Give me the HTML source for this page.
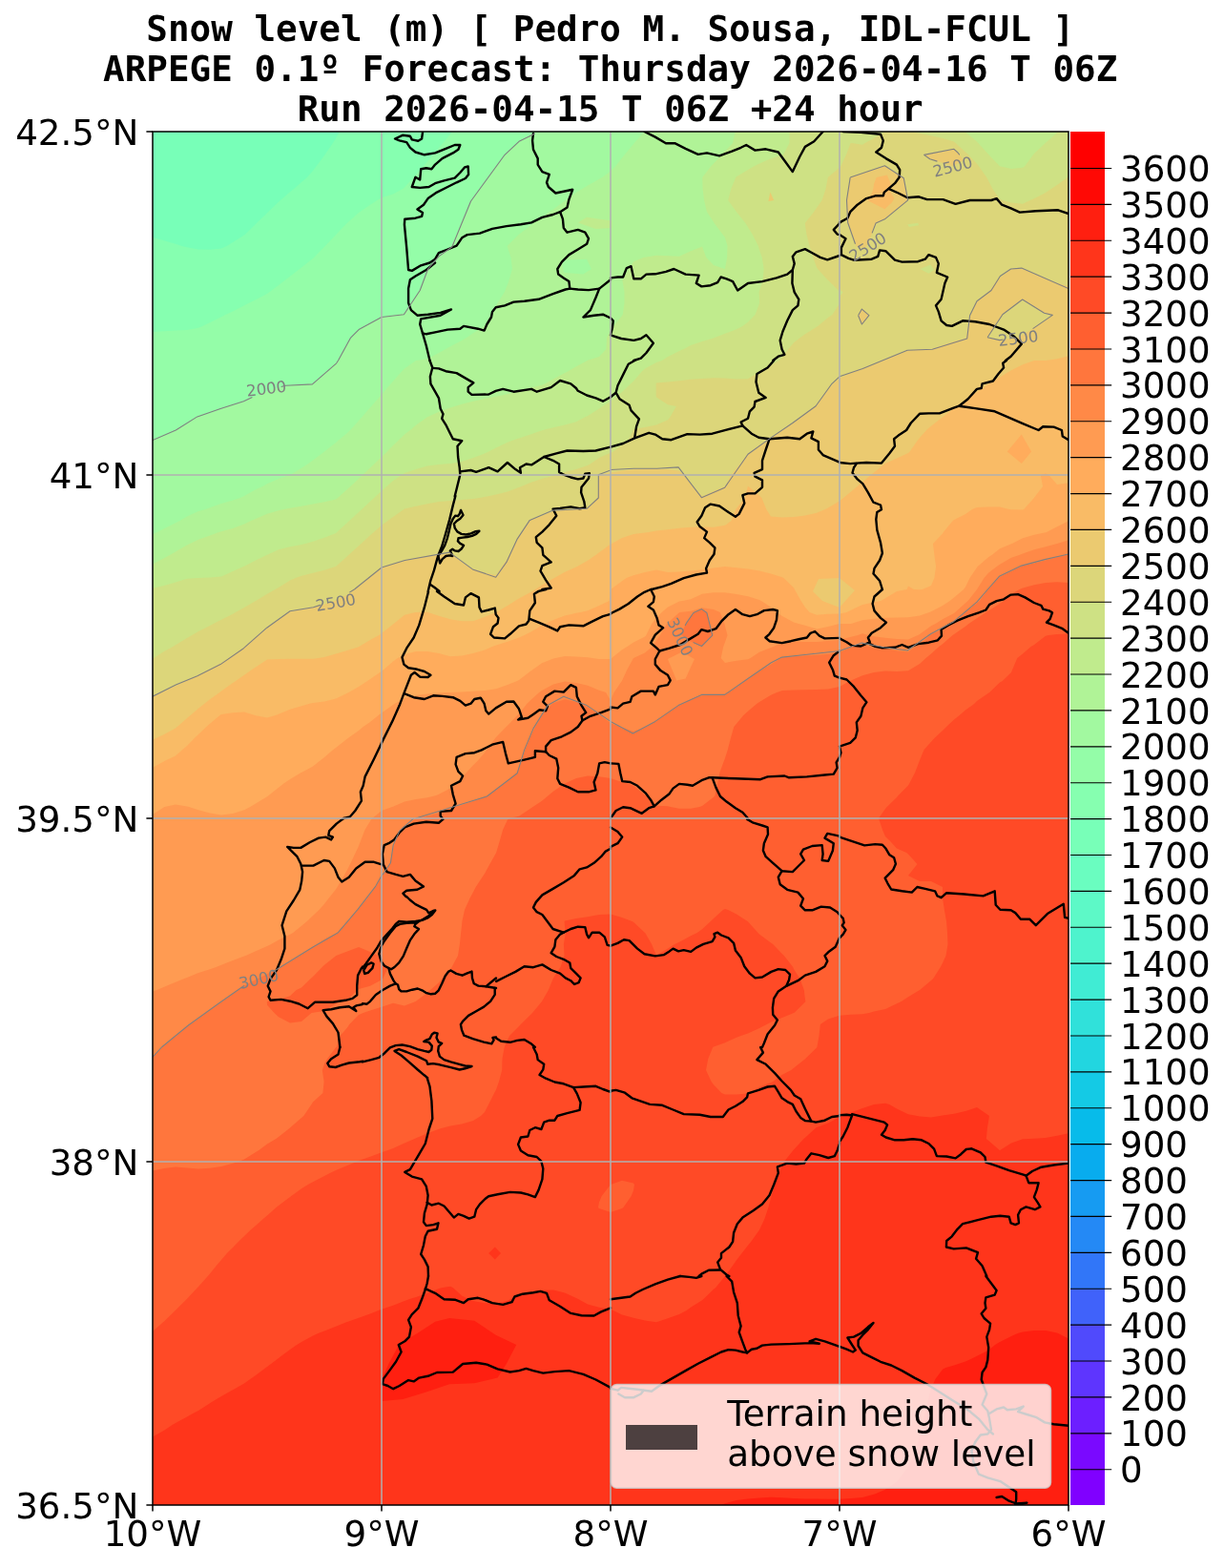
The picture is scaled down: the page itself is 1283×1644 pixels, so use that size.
<!DOCTYPE html>
<html lang="en"><head><meta charset="utf-8"><title>Snow level (m) - ARPEGE 0.1º Forecast</title>
<style>html,body{margin:0;padding:0;background:#fff}body{width:1283px;height:1644px;overflow:hidden}svg{display:block}</style></head>
<body>
<svg width="1283" height="1644" viewBox="0 0 1283 1644">
<rect width="1283" height="1644" fill="#fff"/>
<defs><clipPath id="ax"><rect x="160.0" y="138.0" width="960.0" height="1440.0"/></clipPath></defs>
<g clip-path="url(#ax)">
<g stroke="none">
<rect x="160.0" y="138.0" width="960.0" height="1440.0" fill="#78ffb8"/>
<path fill="#86ffb0" fill-rule="evenodd" d="M348.9 150L352 145.1L355.9 138L364 138L376 138L388 138L400 138L412 138L424 138L436 138L448 138L460 138L472 138L484 138L496 138L508 138L520 138L532 138L544 138L556 138L568 138L580 138L592 138L604 138L616 138L628 138L640 138L652 138L664 138L676 138L688 138L700 138L712 138L724 138L736 138L748 138L760 138L772 138L784 138L796 138L808 138L820 138L832 138L844 138L856 138L868 138L880 138L892 138L904 138L916 138L928 138L940 138L952 138L964 138L976 138L988 138L1000 138L1012 138L1024 138L1036 138L1048 138L1060 138L1072 138L1084 138L1096 138L1108 138L1120 138L1120 150L1120 162L1120 174L1120 186L1120 198L1120 210L1120 222L1120 234L1120 246L1120 258L1120 270L1120 282L1120 294L1120 306L1120 318L1120 330L1120 342L1120 354L1120 366L1120 378L1120 390L1120 402L1120 414L1120 426L1120 438L1120 450L1120 462L1120 474L1120 486L1120 498L1120 510L1120 522L1120 534L1120 546L1120 558L1120 570L1120 582L1120 594L1120 606L1120 618L1120 630L1120 642L1120 654L1120 666L1120 678L1120 690L1120 702L1120 714L1120 726L1120 738L1120 750L1120 762L1120 774L1120 786L1120 798L1120 810L1120 822L1120 834L1120 846L1120 858L1120 870L1120 882L1120 894L1120 906L1120 918L1120 930L1120 942L1120 954L1120 966L1120 978L1120 990L1120 1002L1120 1014L1120 1026L1120 1038L1120 1050L1120 1062L1120 1074L1120 1086L1120 1098L1120 1110L1120 1122L1120 1134L1120 1146L1120 1158L1120 1170L1120 1182L1120 1194L1120 1206L1120 1218L1120 1230L1120 1242L1120 1254L1120 1266L1120 1278L1120 1290L1120 1302L1120 1314L1120 1326L1120 1338L1120 1350L1120 1362L1120 1374L1120 1386L1120 1398L1120 1410L1120 1422L1120 1434L1120 1446L1120 1458L1120 1470L1120 1482L1120 1494L1120 1506L1120 1518L1120 1530L1120 1542L1120 1554L1120 1566L1120 1578L1108 1578L1096 1578L1084 1578L1072 1578L1060 1578L1048 1578L1036 1578L1024 1578L1012 1578L1000 1578L988 1578L976 1578L964 1578L952 1578L940 1578L928 1578L916 1578L904 1578L892 1578L880 1578L868 1578L856 1578L844 1578L832 1578L820 1578L808 1578L796 1578L784 1578L772 1578L760 1578L748 1578L736 1578L724 1578L712 1578L700 1578L688 1578L676 1578L664 1578L652 1578L640 1578L628 1578L616 1578L604 1578L592 1578L580 1578L568 1578L556 1578L544 1578L532 1578L520 1578L508 1578L496 1578L484 1578L472 1578L460 1578L448 1578L436 1578L424 1578L412 1578L400 1578L388 1578L376 1578L364 1578L352 1578L340 1578L328 1578L316 1578L304 1578L292 1578L280 1578L268 1578L256 1578L244 1578L232 1578L220 1578L208 1578L196 1578L184 1578L172 1578L160 1578L160 1566L160 1554L160 1542L160 1530L160 1518L160 1506L160 1494L160 1482L160 1470L160 1458L160 1446L160 1434L160 1422L160 1410L160 1398L160 1386L160 1374L160 1362L160 1350L160 1338L160 1326L160 1314L160 1302L160 1290L160 1278L160 1266L160 1254L160 1242L160 1230L160 1218L160 1206L160 1194L160 1182L160 1170L160 1158L160 1146L160 1134L160 1122L160 1110L160 1098L160 1086L160 1074L160 1062L160 1050L160 1038L160 1026L160 1014L160 1002L160 990L160 978L160 966L160 954L160 942L160 930L160 918L160 906L160 894L160 882L160 870L160 858L160 846L160 834L160 822L160 810L160 798L160 786L160 774L160 762L160 750L160 738L160 726L160 714L160 702L160 690L160 678L160 666L160 654L160 642L160 630L160 618L160 606L160 594L160 582L160 570L160 558L160 546L160 534L160 522L160 510L160 498L160 486L160 474L160 462L160 450L160 438L160 426L160 414L160 402L160 390L160 378L160 366L160 354L160 342L160 330L160 318L160 306L160 294L160 282L160 270L160 258L160 248.7L172 252.3L184 255.8L190.9 258L196 259.2L208 261.6L220 261.8L232 260.6L237.6 258L244 254.1L256 246.5L256.7 246L268 234.9L268.9 234L280 223.2L281.3 222L292 211.7L293.9 210L304 201.3L308 198L316 191.1L321.9 186L328 179L331.8 174L340 162.9L340.7 162Z"/>
<path fill="#94fda8" fill-rule="evenodd" d="M464.2 150L472 140.8L473.8 138L484 138L496 138L508 138L520 138L532 138L544 138L556 138L568 138L580 138L592 138L604 138L616 138L628 138L640 138L652 138L664 138L676 138L688 138L700 138L712 138L724 138L736 138L748 138L760 138L772 138L784 138L796 138L808 138L820 138L832 138L844 138L856 138L868 138L880 138L892 138L904 138L916 138L928 138L940 138L952 138L964 138L976 138L988 138L1000 138L1012 138L1024 138L1036 138L1048 138L1060 138L1072 138L1084 138L1096 138L1108 138L1120 138L1120 150L1120 162L1120 174L1120 186L1120 198L1120 210L1120 222L1120 234L1120 246L1120 258L1120 270L1120 282L1120 294L1120 306L1120 318L1120 330L1120 342L1120 354L1120 366L1120 378L1120 390L1120 402L1120 414L1120 426L1120 438L1120 450L1120 462L1120 474L1120 486L1120 498L1120 510L1120 522L1120 534L1120 546L1120 558L1120 570L1120 582L1120 594L1120 606L1120 618L1120 630L1120 642L1120 654L1120 666L1120 678L1120 690L1120 702L1120 714L1120 726L1120 738L1120 750L1120 762L1120 774L1120 786L1120 798L1120 810L1120 822L1120 834L1120 846L1120 858L1120 870L1120 882L1120 894L1120 906L1120 918L1120 930L1120 942L1120 954L1120 966L1120 978L1120 990L1120 1002L1120 1014L1120 1026L1120 1038L1120 1050L1120 1062L1120 1074L1120 1086L1120 1098L1120 1110L1120 1122L1120 1134L1120 1146L1120 1158L1120 1170L1120 1182L1120 1194L1120 1206L1120 1218L1120 1230L1120 1242L1120 1254L1120 1266L1120 1278L1120 1290L1120 1302L1120 1314L1120 1326L1120 1338L1120 1350L1120 1362L1120 1374L1120 1386L1120 1398L1120 1410L1120 1422L1120 1434L1120 1446L1120 1458L1120 1470L1120 1482L1120 1494L1120 1506L1120 1518L1120 1530L1120 1542L1120 1554L1120 1566L1120 1578L1108 1578L1096 1578L1084 1578L1072 1578L1060 1578L1048 1578L1036 1578L1024 1578L1012 1578L1000 1578L988 1578L976 1578L964 1578L952 1578L940 1578L928 1578L916 1578L904 1578L892 1578L880 1578L868 1578L856 1578L844 1578L832 1578L820 1578L808 1578L796 1578L784 1578L772 1578L760 1578L748 1578L736 1578L724 1578L712 1578L700 1578L688 1578L676 1578L664 1578L652 1578L640 1578L628 1578L616 1578L604 1578L592 1578L580 1578L568 1578L556 1578L544 1578L532 1578L520 1578L508 1578L496 1578L484 1578L472 1578L460 1578L448 1578L436 1578L424 1578L412 1578L400 1578L388 1578L376 1578L364 1578L352 1578L340 1578L328 1578L316 1578L304 1578L292 1578L280 1578L268 1578L256 1578L244 1578L232 1578L220 1578L208 1578L196 1578L184 1578L172 1578L160 1578L160 1566L160 1554L160 1542L160 1530L160 1518L160 1506L160 1494L160 1482L160 1470L160 1458L160 1446L160 1434L160 1422L160 1410L160 1398L160 1386L160 1374L160 1362L160 1350L160 1338L160 1326L160 1314L160 1302L160 1290L160 1278L160 1266L160 1254L160 1242L160 1230L160 1218L160 1206L160 1194L160 1182L160 1170L160 1158L160 1146L160 1134L160 1122L160 1110L160 1098L160 1086L160 1074L160 1062L160 1050L160 1038L160 1026L160 1014L160 1002L160 990L160 978L160 966L160 954L160 942L160 930L160 918L160 906L160 894L160 882L160 870L160 858L160 846L160 834L160 822L160 810L160 798L160 786L160 774L160 762L160 750L160 738L160 726L160 714L160 702L160 690L160 678L160 666L160 654L160 642L160 630L160 618L160 606L160 594L160 582L160 570L160 558L160 546L160 534L160 522L160 510L160 498L160 486L160 474L160 462L160 450L160 438L160 426L160 414L160 402L160 390L160 378L160 366L160 354L160 347.9L172 347.2L184 346.6L196 345.9L208 343.8L212 342L220 338.2L232 332.3L236.3 330L244 326.4L256 320.3L260.4 318L268 314.3L280 307.9L282.7 306L292 299.1L298.5 294L304 289.8L314 282L316 280.4L328 271L329.1 270L340 258.8L340.8 258L352 246.2L352.2 246L363.7 234L364 233.7L376 223L377.4 222L388 214.8L395.3 210L400 207.2L412 203.5L422.2 198L424 196.6L433.4 186L436 183.2L444 174L448 169.4L454.1 162L460 155.1Z"/>
<path fill="#a2f9a0" fill-rule="evenodd" d="M542.5 150L544 148.6L556 141.6L560.3 138L568 138L580 138L592 138L604 138L616 138L628 138L640 138L652 138L664 138L676 138L688 138L700 138L712 138L724 138L736 138L748 138L760 138L772 138L784 138L796 138L808 138L820 138L832 138L844 138L856 138L868 138L880 138L892 138L904 138L916 138L928 138L940 138L952 138L964 138L976 138L988 138L1000 138L1012 138L1024 138L1036 138L1048 138L1060 138L1072 138L1084 138L1096 138L1108 138L1120 138L1120 150L1120 162L1120 174L1120 186L1120 198L1120 210L1120 222L1120 234L1120 246L1120 258L1120 270L1120 282L1120 294L1120 306L1120 318L1120 330L1120 342L1120 354L1120 366L1120 378L1120 390L1120 402L1120 414L1120 426L1120 438L1120 450L1120 462L1120 474L1120 486L1120 498L1120 510L1120 522L1120 534L1120 546L1120 558L1120 570L1120 582L1120 594L1120 606L1120 618L1120 630L1120 642L1120 654L1120 666L1120 678L1120 690L1120 702L1120 714L1120 726L1120 738L1120 750L1120 762L1120 774L1120 786L1120 798L1120 810L1120 822L1120 834L1120 846L1120 858L1120 870L1120 882L1120 894L1120 906L1120 918L1120 930L1120 942L1120 954L1120 966L1120 978L1120 990L1120 1002L1120 1014L1120 1026L1120 1038L1120 1050L1120 1062L1120 1074L1120 1086L1120 1098L1120 1110L1120 1122L1120 1134L1120 1146L1120 1158L1120 1170L1120 1182L1120 1194L1120 1206L1120 1218L1120 1230L1120 1242L1120 1254L1120 1266L1120 1278L1120 1290L1120 1302L1120 1314L1120 1326L1120 1338L1120 1350L1120 1362L1120 1374L1120 1386L1120 1398L1120 1410L1120 1422L1120 1434L1120 1446L1120 1458L1120 1470L1120 1482L1120 1494L1120 1506L1120 1518L1120 1530L1120 1542L1120 1554L1120 1566L1120 1578L1108 1578L1096 1578L1084 1578L1072 1578L1060 1578L1048 1578L1036 1578L1024 1578L1012 1578L1000 1578L988 1578L976 1578L964 1578L952 1578L940 1578L928 1578L916 1578L904 1578L892 1578L880 1578L868 1578L856 1578L844 1578L832 1578L820 1578L808 1578L796 1578L784 1578L772 1578L760 1578L748 1578L736 1578L724 1578L712 1578L700 1578L688 1578L676 1578L664 1578L652 1578L640 1578L628 1578L616 1578L604 1578L592 1578L580 1578L568 1578L556 1578L544 1578L532 1578L520 1578L508 1578L496 1578L484 1578L472 1578L460 1578L448 1578L436 1578L424 1578L412 1578L400 1578L388 1578L376 1578L364 1578L352 1578L340 1578L328 1578L316 1578L304 1578L292 1578L280 1578L268 1578L256 1578L244 1578L232 1578L220 1578L208 1578L196 1578L184 1578L172 1578L160 1578L160 1566L160 1554L160 1542L160 1530L160 1518L160 1506L160 1494L160 1482L160 1470L160 1458L160 1446L160 1434L160 1422L160 1410L160 1398L160 1386L160 1374L160 1362L160 1350L160 1338L160 1326L160 1314L160 1302L160 1290L160 1278L160 1266L160 1254L160 1242L160 1230L160 1218L160 1206L160 1194L160 1182L160 1170L160 1158L160 1146L160 1134L160 1122L160 1110L160 1098L160 1086L160 1074L160 1062L160 1050L160 1038L160 1026L160 1014L160 1002L160 990L160 978L160 966L160 954L160 942L160 930L160 918L160 906L160 894L160 882L160 870L160 858L160 846L160 834L160 822L160 810L160 798L160 786L160 774L160 762L160 750L160 738L160 726L160 714L160 702L160 690L160 678L160 666L160 654L160 642L160 630L160 618L160 606L160 594L160 582L160 570L160 558L160 546L160 534L160 522L160 510L160 498L160 486L160 474L160 462L160 461.6L172 456.8L184 451.2L185.9 450L196 444.3L205.6 438L208 436.9L220 433.1L232 428.7L239.2 426L244 424.6L256 420.9L268 415.3L270.4 414L280 410.1L292 406.5L304 404.3L316 403.5L328 402.3L328.3 402L340 391.8L341.9 390L352 380.6L354.1 378L361 366L364 360.9L368.6 354L376 346.6L382.8 342L388 339.1L400 333L412 330.6L416.8 330L424 328.2L430.5 318L436 310.4L438.7 306L444 294L448 283.9L448.9 282L459 270L460 269.1L472 259.8L473.3 258L478.5 246L484 234L484 234L488.8 222L494.4 210L496 207.6L503.1 198L508 191.2L511.9 186L520 174.8L520.6 174L530 162L532 159.6Z"/>
<path fill="#b0f397" fill-rule="evenodd" d="M675.4 138L676 138L688 138L700 138L712 138L724 138L736 138L748 138L760 138L772 138L784 138L796 138L808 138L820 138L832 138L844 138L856 138L868 138L880 138L892 138L904 138L916 138L928 138L940 138L952 138L964 138L976 138L988 138L1000 138L1012 138L1024 138L1036 138L1048 138L1060 138L1072 138L1084 138L1096 138L1108 138L1120 138L1120 150L1120 162L1120 174L1120 186L1120 198L1120 210L1120 222L1120 234L1120 246L1120 258L1120 270L1120 282L1120 294L1120 306L1120 318L1120 330L1120 342L1120 354L1120 366L1120 378L1120 390L1120 402L1120 414L1120 426L1120 438L1120 450L1120 462L1120 474L1120 486L1120 498L1120 510L1120 522L1120 534L1120 546L1120 558L1120 570L1120 582L1120 594L1120 606L1120 618L1120 630L1120 642L1120 654L1120 666L1120 678L1120 690L1120 702L1120 714L1120 726L1120 738L1120 750L1120 762L1120 774L1120 786L1120 798L1120 810L1120 822L1120 834L1120 846L1120 858L1120 870L1120 882L1120 894L1120 906L1120 918L1120 930L1120 942L1120 954L1120 966L1120 978L1120 990L1120 1002L1120 1014L1120 1026L1120 1038L1120 1050L1120 1062L1120 1074L1120 1086L1120 1098L1120 1110L1120 1122L1120 1134L1120 1146L1120 1158L1120 1170L1120 1182L1120 1194L1120 1206L1120 1218L1120 1230L1120 1242L1120 1254L1120 1266L1120 1278L1120 1290L1120 1302L1120 1314L1120 1326L1120 1338L1120 1350L1120 1362L1120 1374L1120 1386L1120 1398L1120 1410L1120 1422L1120 1434L1120 1446L1120 1458L1120 1470L1120 1482L1120 1494L1120 1506L1120 1518L1120 1530L1120 1542L1120 1554L1120 1566L1120 1578L1108 1578L1096 1578L1084 1578L1072 1578L1060 1578L1048 1578L1036 1578L1024 1578L1012 1578L1000 1578L988 1578L976 1578L964 1578L952 1578L940 1578L928 1578L916 1578L904 1578L892 1578L880 1578L868 1578L856 1578L844 1578L832 1578L820 1578L808 1578L796 1578L784 1578L772 1578L760 1578L748 1578L736 1578L724 1578L712 1578L700 1578L688 1578L676 1578L664 1578L652 1578L640 1578L628 1578L616 1578L604 1578L592 1578L580 1578L568 1578L556 1578L544 1578L532 1578L520 1578L508 1578L496 1578L484 1578L472 1578L460 1578L448 1578L436 1578L424 1578L412 1578L400 1578L388 1578L376 1578L364 1578L352 1578L340 1578L328 1578L316 1578L304 1578L292 1578L280 1578L268 1578L256 1578L244 1578L232 1578L220 1578L208 1578L196 1578L184 1578L172 1578L160 1578L160 1566L160 1554L160 1542L160 1530L160 1518L160 1506L160 1494L160 1482L160 1470L160 1458L160 1446L160 1434L160 1422L160 1410L160 1398L160 1386L160 1374L160 1362L160 1350L160 1338L160 1326L160 1314L160 1302L160 1290L160 1278L160 1266L160 1254L160 1242L160 1230L160 1218L160 1206L160 1194L160 1182L160 1170L160 1158L160 1146L160 1134L160 1122L160 1110L160 1098L160 1086L160 1074L160 1062L160 1050L160 1038L160 1026L160 1014L160 1002L160 990L160 978L160 966L160 954L160 942L160 930L160 918L160 906L160 894L160 882L160 870L160 858L160 846L160 834L160 822L160 810L160 798L160 786L160 774L160 762L160 750L160 738L160 726L160 714L160 702L160 690L160 678L160 666L160 654L160 642L160 630L160 618L160 606L160 594L160 582L160 570L160 559.9L164.9 558L172 554.3L184 548.2L188.5 546L196 541.6L208 536.1L215.5 534L220 532.3L232 528L244 524.4L251.7 522L256 520L268 513.3L275.3 510L280 507.3L292 502.1L303.8 498L304 497.9L316 490.8L323.3 486L328 482.5L339.4 474L340 473.6L352 464L354.4 462L364 454.1L368 450L376 441.1L378.7 438L388 427.3L389.2 426L399.6 414L400 413.5L410 402L412 399.7L420.6 390L424 386.4L436 378L436.2 378L448 376.2L460 369.9L467.2 366L472 363.3L484 357L489.1 354L496 349.3L507.3 342L508 341.2L514.5 330L520 320.1L521.4 318L528.9 306L532 298.2L533.5 294L536.9 282L535.5 270L532 259.2L531.8 258L532 257.6L543.7 246L544 245.8L556 236.5L559.1 234L568 227.5L576.1 222L580 219.4L592 210.5L592.6 210L604 201.8L610.2 198L616 194.6L628 187.8L631.2 186L640 179.6L645.5 174L652 165.6L654.9 162L664 150.9L664.8 150Z"/>
<path fill="#c0eb8d" fill-rule="evenodd" d="M770.7 138L772 138L784 138L796 138L808 138L820 138L832 138L844 138L856 138L868 138L880 138L892 138L904 138L916 138L928 138L940 138L952 138L964 138L976 138L988 138L1000 138L1012 138L1024 138L1036 138L1048 138L1060 138L1072 138L1084 138L1096 138L1108 138L1120 138L1120 150L1120 162L1120 174L1120 186L1120 198L1120 210L1120 222L1120 234L1120 246L1120 258L1120 270L1120 282L1120 294L1120 306L1120 318L1120 330L1120 342L1120 354L1120 366L1120 378L1120 390L1120 402L1120 414L1120 426L1120 438L1120 450L1120 462L1120 474L1120 486L1120 498L1120 510L1120 522L1120 534L1120 546L1120 558L1120 570L1120 582L1120 594L1120 606L1120 618L1120 630L1120 642L1120 654L1120 666L1120 678L1120 690L1120 702L1120 714L1120 726L1120 738L1120 750L1120 762L1120 774L1120 786L1120 798L1120 810L1120 822L1120 834L1120 846L1120 858L1120 870L1120 882L1120 894L1120 906L1120 918L1120 930L1120 942L1120 954L1120 966L1120 978L1120 990L1120 1002L1120 1014L1120 1026L1120 1038L1120 1050L1120 1062L1120 1074L1120 1086L1120 1098L1120 1110L1120 1122L1120 1134L1120 1146L1120 1158L1120 1170L1120 1182L1120 1194L1120 1206L1120 1218L1120 1230L1120 1242L1120 1254L1120 1266L1120 1278L1120 1290L1120 1302L1120 1314L1120 1326L1120 1338L1120 1350L1120 1362L1120 1374L1120 1386L1120 1398L1120 1410L1120 1422L1120 1434L1120 1446L1120 1458L1120 1470L1120 1482L1120 1494L1120 1506L1120 1518L1120 1530L1120 1542L1120 1554L1120 1566L1120 1578L1108 1578L1096 1578L1084 1578L1072 1578L1060 1578L1048 1578L1036 1578L1024 1578L1012 1578L1000 1578L988 1578L976 1578L964 1578L952 1578L940 1578L928 1578L916 1578L904 1578L892 1578L880 1578L868 1578L856 1578L844 1578L832 1578L820 1578L808 1578L796 1578L784 1578L772 1578L760 1578L748 1578L736 1578L724 1578L712 1578L700 1578L688 1578L676 1578L664 1578L652 1578L640 1578L628 1578L616 1578L604 1578L592 1578L580 1578L568 1578L556 1578L544 1578L532 1578L520 1578L508 1578L496 1578L484 1578L472 1578L460 1578L448 1578L436 1578L424 1578L412 1578L400 1578L388 1578L376 1578L364 1578L352 1578L340 1578L328 1578L316 1578L304 1578L292 1578L280 1578L268 1578L256 1578L244 1578L232 1578L220 1578L208 1578L196 1578L184 1578L172 1578L160 1578L160 1566L160 1554L160 1542L160 1530L160 1518L160 1506L160 1494L160 1482L160 1470L160 1458L160 1446L160 1434L160 1422L160 1410L160 1398L160 1386L160 1374L160 1362L160 1350L160 1338L160 1326L160 1314L160 1302L160 1290L160 1278L160 1266L160 1254L160 1242L160 1230L160 1218L160 1206L160 1194L160 1182L160 1170L160 1158L160 1146L160 1134L160 1122L160 1110L160 1098L160 1086L160 1074L160 1062L160 1050L160 1038L160 1026L160 1014L160 1002L160 990L160 978L160 966L160 954L160 942L160 930L160 918L160 906L160 894L160 882L160 870L160 858L160 846L160 834L160 822L160 810L160 798L160 786L160 774L160 762L160 750L160 738L160 726L160 714L160 702L160 690L160 678L160 666L160 654L160 642L160 630L160 618L160 606L160 594L160 591.4L172 585.2L177.9 582L184 578.6L196 571.6L199 570L208 565.7L220 561.5L229.4 558L232 557.2L244 553.9L256 549.6L263.1 546L268 543.9L280 538.8L292 535.2L297.8 534L304 532.8L316 530.7L328 528.6L340 526.2L352 523.4L354 522L364 513.1L367.3 510L376 501.9L380.1 498L388 490.5L392.8 486L400 479L405.4 474L412 466.9L417.4 462L424 455.6L431.2 450L436 445.8L446.9 438L448 437.2L460 431.7L472 427.5L476.8 426L484 423.8L496 420.8L508 418.1L520 415.7L528.3 414L532 413.2L544 409.9L556 406.8L568 403.7L572 402L580 397.4L592 391.1L594.3 390L604 384.3L615.7 378L616 377.7L628 373.9L635.5 366L636.1 354L640 347.6L643.3 342L652 331.1L652.7 330L654.5 318L654.5 306L652.4 294L659.2 282L664 274.6L674.4 270L676 269.7L688 267.8L700 268.3L712 268.7L724 263.2L736 258.6L740.3 270L748 278.1L759.6 282L760 282L760 282L762.1 270L762.5 258L760 249L757.7 246L748.7 234L748 232.7L740.9 222L738.1 210L736.6 198L736.2 186L745.5 174L748 171.6L757.1 162L760 158.6L768.1 150Z"/>
<path fill="#cee184" fill-rule="evenodd" d="M827.6 138L832 138L844 138L856 138L868 138L880 138L892 138L904 138L916 138L928 138L940 138L952 138L964 138L976 138L988 138L1000 138L1011.5 138L1012 138.4L1024 148.5L1025.3 150L1036 161.8L1036.2 162L1047.7 174L1048 174.3L1060 176.9L1072 175.8L1074.4 174L1083.2 162L1084 161.1L1095.7 150L1096 149.7L1108 139.3L1109.5 138L1120 138L1120 150L1120 162L1120 174L1120 186L1120 198L1120 210L1120 222L1120 234L1120 246L1120 258L1120 270L1120 282L1120 294L1120 306L1120 318L1120 330L1120 342L1120 354L1120 366L1120 378L1120 390L1120 402L1120 414L1120 426L1120 438L1120 450L1120 462L1120 474L1120 486L1120 498L1120 510L1120 522L1120 534L1120 546L1120 558L1120 570L1120 582L1120 594L1120 606L1120 618L1120 630L1120 642L1120 654L1120 666L1120 678L1120 690L1120 702L1120 714L1120 726L1120 738L1120 750L1120 762L1120 774L1120 786L1120 798L1120 810L1120 822L1120 834L1120 846L1120 858L1120 870L1120 882L1120 894L1120 906L1120 918L1120 930L1120 942L1120 954L1120 966L1120 978L1120 990L1120 1002L1120 1014L1120 1026L1120 1038L1120 1050L1120 1062L1120 1074L1120 1086L1120 1098L1120 1110L1120 1122L1120 1134L1120 1146L1120 1158L1120 1170L1120 1182L1120 1194L1120 1206L1120 1218L1120 1230L1120 1242L1120 1254L1120 1266L1120 1278L1120 1290L1120 1302L1120 1314L1120 1326L1120 1338L1120 1350L1120 1362L1120 1374L1120 1386L1120 1398L1120 1410L1120 1422L1120 1434L1120 1446L1120 1458L1120 1470L1120 1482L1120 1494L1120 1506L1120 1518L1120 1530L1120 1542L1120 1554L1120 1566L1120 1578L1108 1578L1096 1578L1084 1578L1072 1578L1060 1578L1048 1578L1036 1578L1024 1578L1012 1578L1000 1578L988 1578L976 1578L964 1578L952 1578L940 1578L928 1578L916 1578L904 1578L892 1578L880 1578L868 1578L856 1578L844 1578L832 1578L820 1578L808 1578L796 1578L784 1578L772 1578L760 1578L748 1578L736 1578L724 1578L712 1578L700 1578L688 1578L676 1578L664 1578L652 1578L640 1578L628 1578L616 1578L604 1578L592 1578L580 1578L568 1578L556 1578L544 1578L532 1578L520 1578L508 1578L496 1578L484 1578L472 1578L460 1578L448 1578L436 1578L424 1578L412 1578L400 1578L388 1578L376 1578L364 1578L352 1578L340 1578L328 1578L316 1578L304 1578L292 1578L280 1578L268 1578L256 1578L244 1578L232 1578L220 1578L208 1578L196 1578L184 1578L172 1578L160 1578L160 1566L160 1554L160 1542L160 1530L160 1518L160 1506L160 1494L160 1482L160 1470L160 1458L160 1446L160 1434L160 1422L160 1410L160 1398L160 1386L160 1374L160 1362L160 1350L160 1338L160 1326L160 1314L160 1302L160 1290L160 1278L160 1266L160 1254L160 1242L160 1230L160 1218L160 1206L160 1194L160 1182L160 1170L160 1158L160 1146L160 1134L160 1122L160 1110L160 1098L160 1086L160 1074L160 1062L160 1050L160 1038L160 1026L160 1014L160 1002L160 990L160 978L160 966L160 954L160 942L160 930L160 918L160 906L160 894L160 882L160 870L160 858L160 846L160 834L160 822L160 810L160 798L160 786L160 774L160 762L160 750L160 738L160 726L160 714L160 702L160 690L160 678L160 666L160 654L160 642L160 630L160 618L160 616.8L172 613.9L184 610.5L196 606.8L206.3 606L208 605.9L220 605.5L232 604.6L244 599L255.3 594L256 593.7L268 587.5L279.4 582L280 581.7L292 576.2L304 573.3L316 571.1L320.1 570L328 567.7L340 563.8L352 558.9L353.1 558L364 548L366.1 546L376 537L379.2 534L388 525.8L392.2 522L400 514.7L405.4 510L412 504L420.8 498L424 496L436 492.1L448 488.6L460 487.1L472 486.1L473.1 486L484 484.1L496 479.9L508 475.4L511.2 474L520 469.6L532 463.7L536.3 462L544 459.4L556 455.5L568 451.3L572.7 450L580 448.3L592 445.6L604 442.2L611.8 438L616 435.9L628 428.6L631.6 426L640 420.9L648.2 414L652 411.1L661.5 402L664 399.7L672.3 390L676 386.5L688 380.1L693.9 378L700 374.1L712 367.9L716.8 366L724 362L736 357.9L748 354.4L749.1 354L760 349.7L772 345.2L778.3 342L784 337.8L791.5 330L796 318.5L796.1 318L796 315.3L795.6 306L796 304.7L799.6 294L800.7 282L798.8 270L796 262L794.9 258L788.9 246L784 238.3L781.5 234L772 222.2L771.9 222L763.2 210L766.3 198L771.3 186L772 185.3L784 177.9L791 174L796 171.5L808 166.3L820 162.4L821.2 162L827.5 150Z"/>
<path fill="#dcd67a" fill-rule="evenodd" d="M891.7 150L892 149.9L892.7 150L904 151.7L906.7 150L916 144.9L928 138L928.8 138L940 138L952 138L952.8 138L964 139.8L976 142.2L988 144.9L1000 148.6L1001.7 150L1012 159.4L1014.9 162L1024 171.7L1025.8 174L1034.2 186L1036 189.5L1040.5 198L1048 209L1050.9 210L1060 212.6L1072 213.8L1079.9 210L1084 208.3L1096 202L1101.9 198L1108 194L1118.9 186L1120 185.4L1120 186L1120 198L1120 210L1120 222L1120 234L1120 246L1120 258L1120 270L1120 282L1120 294L1120 306L1120 318L1120 330L1120 342L1120 354L1120 366L1120 378L1120 390L1120 402L1120 414L1120 426L1120 438L1120 450L1120 462L1120 474L1120 486L1120 498L1120 510L1120 522L1120 534L1120 546L1120 558L1120 570L1120 582L1120 594L1120 606L1120 618L1120 630L1120 642L1120 654L1120 666L1120 678L1120 690L1120 702L1120 714L1120 726L1120 738L1120 750L1120 762L1120 774L1120 786L1120 798L1120 810L1120 822L1120 834L1120 846L1120 858L1120 870L1120 882L1120 894L1120 906L1120 918L1120 930L1120 942L1120 954L1120 966L1120 978L1120 990L1120 1002L1120 1014L1120 1026L1120 1038L1120 1050L1120 1062L1120 1074L1120 1086L1120 1098L1120 1110L1120 1122L1120 1134L1120 1146L1120 1158L1120 1170L1120 1182L1120 1194L1120 1206L1120 1218L1120 1230L1120 1242L1120 1254L1120 1266L1120 1278L1120 1290L1120 1302L1120 1314L1120 1326L1120 1338L1120 1350L1120 1362L1120 1374L1120 1386L1120 1398L1120 1410L1120 1422L1120 1434L1120 1446L1120 1458L1120 1470L1120 1482L1120 1494L1120 1506L1120 1518L1120 1530L1120 1542L1120 1554L1120 1566L1120 1578L1108 1578L1096 1578L1084 1578L1072 1578L1060 1578L1048 1578L1036 1578L1024 1578L1012 1578L1000 1578L988 1578L976 1578L964 1578L952 1578L940 1578L928 1578L916 1578L904 1578L892 1578L880 1578L868 1578L856 1578L844 1578L832 1578L820 1578L808 1578L796 1578L784 1578L772 1578L760 1578L748 1578L736 1578L724 1578L712 1578L700 1578L688 1578L676 1578L664 1578L652 1578L640 1578L628 1578L616 1578L604 1578L592 1578L580 1578L568 1578L556 1578L544 1578L532 1578L520 1578L508 1578L496 1578L484 1578L472 1578L460 1578L448 1578L436 1578L424 1578L412 1578L400 1578L388 1578L376 1578L364 1578L352 1578L340 1578L328 1578L316 1578L304 1578L292 1578L280 1578L268 1578L256 1578L244 1578L232 1578L220 1578L208 1578L196 1578L184 1578L172 1578L160 1578L160 1566L160 1554L160 1542L160 1530L160 1518L160 1506L160 1494L160 1482L160 1470L160 1458L160 1446L160 1434L160 1422L160 1410L160 1398L160 1386L160 1374L160 1362L160 1350L160 1338L160 1326L160 1314L160 1302L160 1290L160 1278L160 1266L160 1254L160 1242L160 1230L160 1218L160 1206L160 1194L160 1182L160 1170L160 1158L160 1146L160 1134L160 1122L160 1110L160 1098L160 1086L160 1074L160 1062L160 1050L160 1038L160 1026L160 1014L160 1002L160 990L160 978L160 966L160 954L160 942L160 930L160 918L160 906L160 894L160 882L160 870L160 858L160 846L160 834L160 822L160 810L160 798L160 786L160 774L160 762L160 750L160 738L160 726L160 714L160 702L160 690.5L161.2 690L172 683.1L181.3 678L184 676.3L196 668.9L201.2 666L208 662L220 656L223.6 654L232 649.8L244 643.7L246.8 642L256 637L268 630.1L268.1 630L280 622.7L288.5 618L292 615.9L304 608.5L309.9 606L316 603.7L328 600.8L340 597.8L351.8 594L352 593.9L364 583.2L365.3 582L376 572.3L378.6 570L388 561.3L391.8 558L400 550.7L406.5 546L412 542L423.4 534L424 533.6L436 530.8L448 528.3L460 526.1L472 525.1L484 524.1L496 523.1L502.6 522L508 521.1L520 518.5L532 515.4L544 511.1L546.6 510L556 506L568 502.1L580 498.7L582.5 498L592 495.1L604 492.1L616 488.1L619.4 486L628 480L640 474.7L642 474L652 466.7L658.5 462L664 450.2L664.9 450L676 447.9L688 445.5L700 440.3L702 438L708.9 426L700 424.3L688 416.4L687.7 414L687.6 402L688 401.6L700 400.4L712 399.2L724 397.8L736 396.9L748 396.2L760 396.6L772 397.6L784 397.2L795.6 390L796 389.8L808 383.1L816.4 378L820 374.7L826.5 366L832 359.3L838.8 354L844 350.3L856 342.8L857.2 342L868 333L872.3 330L880 318.6L880.3 318L880.1 306L880 305.7L868.2 294L868 293.9L857.1 282L856 280.3L852.3 270L848.6 258L845.5 246L844 235.5L843.9 234L844 233.7L853.2 222L856 218L861.6 210L865.6 198L867.8 186L868 185.7L880 175.8L881.5 174L887.1 162Z"/>
<path fill="#ebca70" fill-rule="evenodd" d="M1060.4 282L1072 281.8L1072.8 282L1084 287.1L1096 292L1100.5 294L1108 296.8L1120 300.2L1120 306L1120 318L1120 330L1120 342L1120 354L1120 366L1120 378L1120 390L1120 402L1120 414L1120 426L1120 438L1120 450L1120 462L1120 474L1120 486L1120 498L1120 510L1120 522L1120 534L1120 546L1120 558L1120 570L1120 582L1120 594L1120 606L1120 618L1120 630L1120 642L1120 654L1120 666L1120 678L1120 690L1120 702L1120 714L1120 726L1120 738L1120 750L1120 762L1120 774L1120 786L1120 798L1120 810L1120 822L1120 834L1120 846L1120 858L1120 870L1120 882L1120 894L1120 906L1120 918L1120 930L1120 942L1120 954L1120 966L1120 978L1120 990L1120 1002L1120 1014L1120 1026L1120 1038L1120 1050L1120 1062L1120 1074L1120 1086L1120 1098L1120 1110L1120 1122L1120 1134L1120 1146L1120 1158L1120 1170L1120 1182L1120 1194L1120 1206L1120 1218L1120 1230L1120 1242L1120 1254L1120 1266L1120 1278L1120 1290L1120 1302L1120 1314L1120 1326L1120 1338L1120 1350L1120 1362L1120 1374L1120 1386L1120 1398L1120 1410L1120 1422L1120 1434L1120 1446L1120 1458L1120 1470L1120 1482L1120 1494L1120 1506L1120 1518L1120 1530L1120 1542L1120 1554L1120 1566L1120 1578L1108 1578L1096 1578L1084 1578L1072 1578L1060 1578L1048 1578L1036 1578L1024 1578L1012 1578L1000 1578L988 1578L976 1578L964 1578L952 1578L940 1578L928 1578L916 1578L904 1578L892 1578L880 1578L868 1578L856 1578L844 1578L832 1578L820 1578L808 1578L796 1578L784 1578L772 1578L760 1578L748 1578L736 1578L724 1578L712 1578L700 1578L688 1578L676 1578L664 1578L652 1578L640 1578L628 1578L616 1578L604 1578L592 1578L580 1578L568 1578L556 1578L544 1578L532 1578L520 1578L508 1578L496 1578L484 1578L472 1578L460 1578L448 1578L436 1578L424 1578L412 1578L400 1578L388 1578L376 1578L364 1578L352 1578L340 1578L328 1578L316 1578L304 1578L292 1578L280 1578L268 1578L256 1578L244 1578L232 1578L220 1578L208 1578L196 1578L184 1578L172 1578L160 1578L160 1566L160 1554L160 1542L160 1530L160 1518L160 1506L160 1494L160 1482L160 1470L160 1458L160 1446L160 1434L160 1422L160 1410L160 1398L160 1386L160 1374L160 1362L160 1350L160 1338L160 1326L160 1314L160 1302L160 1290L160 1278L160 1266L160 1254L160 1242L160 1230L160 1218L160 1206L160 1194L160 1182L160 1170L160 1158L160 1146L160 1134L160 1122L160 1110L160 1098L160 1086L160 1074L160 1062L160 1050L160 1038L160 1026L160 1014L160 1002L160 990L160 978L160 966L160 954L160 942L160 930L160 918L160 906L160 894L160 882L160 870L160 858L160 846L160 834L160 822L160 810L160 798L160 786L160 774L160 762L160 750L160 738L160 730.5L168.7 726L172 724.6L184 718.9L194.2 714L196 713.2L208 708L220 702.1L220.1 702L232 695L239.9 690L244 687L256 678.8L257 678L268 668.1L270.9 666L280 658.3L286 654L292 649.8L302.8 642L304 641.3L316 639L328 636.7L340 633.6L350.3 630L352 629.5L364 623.7L371.8 618L376 614.9L386.7 606L388 604.9L400 595.5L403.6 594L412 591.2L424 587.7L436 585.1L448 583.1L454.5 582L460 581.1L472 580.5L474.8 582L484 588.8L491.6 594L496 596.5L508 600.5L520 602.9L526 594L532 585.7L534 582L539.5 570L544 562.6L546.8 558L555.2 546L556 545.4L568 540.8L580 535.8L592 534.8L604 534.1L604.5 534L616 532L626.6 522L627.3 510L627.8 498L628 497.9L640 495.4L652 493.5L664 492.3L676 491.8L688 491.7L700 491.9L712 493.7L717 498L724 506.9L726.7 510L736 520.4L748 515L760 510.1L760.1 510L766.3 498L772 490.9L776.2 486L784 476.1L787 474L796 467L803.8 462L808 458.9L820 450.9L821.3 450L832 442.5L838.4 438L844 433.7L854.4 426L856 424.4L863.7 414L868 408.3L873.4 402L880 396.5L892 390.8L894 390L904 386.5L916 381.9L925.1 378L928 376.7L940 371.8L952 367.3L964 366.6L976 366.2L976.7 366L988 362.1L1000 358L1012 354.7L1012.7 354L1014.9 342L1017.5 330L1023 318L1024 316.3L1036 306.4L1036.4 306L1045.1 294L1048 291.3L1060 282Z"/>
<path fill="#f9bb66" fill-rule="evenodd" d="M1084 378L1084 378L1096 377.9L1108 376.2L1120 373.2L1120 378L1120 390L1120 402L1120 414L1120 426L1120 438L1120 450L1120 462L1120 474L1120 486L1120 498L1120 510L1120 522L1120 534L1120 546L1120 558L1120 570L1120 582L1120 594L1120 606L1120 618L1120 630L1120 642L1120 654L1120 666L1120 678L1120 690L1120 702L1120 714L1120 726L1120 738L1120 750L1120 762L1120 774L1120 786L1120 798L1120 810L1120 822L1120 834L1120 846L1120 858L1120 870L1120 882L1120 894L1120 906L1120 918L1120 930L1120 942L1120 954L1120 966L1120 978L1120 990L1120 1002L1120 1014L1120 1026L1120 1038L1120 1050L1120 1062L1120 1074L1120 1086L1120 1098L1120 1110L1120 1122L1120 1134L1120 1146L1120 1158L1120 1170L1120 1182L1120 1194L1120 1206L1120 1218L1120 1230L1120 1242L1120 1254L1120 1266L1120 1278L1120 1290L1120 1302L1120 1314L1120 1326L1120 1338L1120 1350L1120 1362L1120 1374L1120 1386L1120 1398L1120 1410L1120 1422L1120 1434L1120 1446L1120 1458L1120 1470L1120 1482L1120 1494L1120 1506L1120 1518L1120 1530L1120 1542L1120 1554L1120 1566L1120 1578L1108 1578L1096 1578L1084 1578L1072 1578L1060 1578L1048 1578L1036 1578L1024 1578L1012 1578L1000 1578L988 1578L976 1578L964 1578L952 1578L940 1578L928 1578L916 1578L904 1578L892 1578L880 1578L868 1578L856 1578L844 1578L832 1578L820 1578L808 1578L796 1578L784 1578L772 1578L760 1578L748 1578L736 1578L724 1578L712 1578L700 1578L688 1578L676 1578L664 1578L652 1578L640 1578L628 1578L616 1578L604 1578L592 1578L580 1578L568 1578L556 1578L544 1578L532 1578L520 1578L508 1578L496 1578L484 1578L472 1578L460 1578L448 1578L436 1578L424 1578L412 1578L400 1578L388 1578L376 1578L364 1578L352 1578L340 1578L328 1578L316 1578L304 1578L292 1578L280 1578L268 1578L256 1578L244 1578L232 1578L220 1578L208 1578L196 1578L184 1578L172 1578L160 1578L160 1566L160 1554L160 1542L160 1530L160 1518L160 1506L160 1494L160 1482L160 1470L160 1458L160 1446L160 1434L160 1422L160 1410L160 1398L160 1386L160 1374L160 1362L160 1350L160 1338L160 1326L160 1314L160 1302L160 1290L160 1278L160 1266L160 1254L160 1242L160 1230L160 1218L160 1206L160 1194L160 1182L160 1170L160 1158L160 1146L160 1134L160 1122L160 1110L160 1098L160 1086L160 1074L160 1062L160 1050L160 1038L160 1026L160 1014L160 1002L160 990L160 978L160 966L160 954L160 942L160 930L160 918L160 906L160 894L160 882L160 870L160 858L160 846L160 834L160 822L160 810L160 798L160 786L160 775.5L163.6 774L172 769.9L184 763.5L185.8 762L196 753.1L199.6 750L208 742.8L214 738L220 733.3L230.2 726L232 724.6L244 716L247 714L256 707.7L264.1 702L268 699.4L280 691.6L292 691L304 690.8L316 690.8L328 690.8L333.6 690L340 688.9L352 685.6L364 681.9L376 678.2L376.3 678L388 670.9L397.2 666L400 664L412 654.4L412.7 654L424 644.7L435.4 642L436 641.9L448 641.8L448.7 642L460 645.7L472 649.3L484 651.3L496 651.2L508 646.7L520 642.1L520.2 642L532 634.9L539.9 630L544 627.6L556 620.9L561.1 618L568 613.6L580 606.6L581.1 606L592 599.8L604 594.5L604.9 594L616 587.7L624.3 582L628 579.3L640 570.6L641.2 570L652 564L664 560.1L676 558.5L680 558L688 556.6L700 555.2L712 553.8L724 552.8L736 552.6L748 552.7L760 550.8L766.6 546L771.3 534L772 532.9L780.7 522L783.9 510L784 509.9L784.4 510L796 519.5L798.4 522L803.3 534L808 541.4L820 542.5L832 542.1L844 540.4L856 537.7L865 534L868 532.6L880 525.2L884.2 522L892 515.5L898.6 510L904 505.4L912.9 498L916 495.5L927.9 486L928 486L940 480.5L952 475.1L953.3 474L961.6 462L964 459L972 450L976 446.8L987.1 438L988 437.4L1000 428.1L1002.7 426L1012 419.4L1019.3 414L1024 410.9L1036 402.7L1037.1 402L1048 395.6L1057 390L1060 388.2L1072 382.3Z"/>
<path fill="#ffac5c" fill-rule="evenodd" d="M1090.7 498L1096 496.5L1099.4 498L1108 507.9L1120 506.2L1120 510L1120 522L1120 534L1120 546L1120 558L1120 570L1120 582L1120 594L1120 606L1120 618L1120 630L1120 642L1120 654L1120 666L1120 678L1120 690L1120 702L1120 714L1120 726L1120 738L1120 750L1120 762L1120 774L1120 786L1120 798L1120 810L1120 822L1120 834L1120 846L1120 858L1120 870L1120 882L1120 894L1120 906L1120 918L1120 930L1120 942L1120 954L1120 966L1120 978L1120 990L1120 1002L1120 1014L1120 1026L1120 1038L1120 1050L1120 1062L1120 1074L1120 1086L1120 1098L1120 1110L1120 1122L1120 1134L1120 1146L1120 1158L1120 1170L1120 1182L1120 1194L1120 1206L1120 1218L1120 1230L1120 1242L1120 1254L1120 1266L1120 1278L1120 1290L1120 1302L1120 1314L1120 1326L1120 1338L1120 1350L1120 1362L1120 1374L1120 1386L1120 1398L1120 1410L1120 1422L1120 1434L1120 1446L1120 1458L1120 1470L1120 1482L1120 1494L1120 1506L1120 1518L1120 1530L1120 1542L1120 1554L1120 1566L1120 1578L1108 1578L1096 1578L1084 1578L1072 1578L1060 1578L1048 1578L1036 1578L1024 1578L1012 1578L1000 1578L988 1578L976 1578L964 1578L952 1578L940 1578L928 1578L916 1578L904 1578L892 1578L880 1578L868 1578L856 1578L844 1578L832 1578L820 1578L808 1578L796 1578L784 1578L772 1578L760 1578L748 1578L736 1578L724 1578L712 1578L700 1578L688 1578L676 1578L664 1578L652 1578L640 1578L628 1578L616 1578L604 1578L592 1578L580 1578L568 1578L556 1578L544 1578L532 1578L520 1578L508 1578L496 1578L484 1578L472 1578L460 1578L448 1578L436 1578L424 1578L412 1578L400 1578L388 1578L376 1578L364 1578L352 1578L340 1578L328 1578L316 1578L304 1578L292 1578L280 1578L268 1578L256 1578L244 1578L232 1578L220 1578L208 1578L196 1578L184 1578L172 1578L160 1578L160 1566L160 1554L160 1542L160 1530L160 1518L160 1506L160 1494L160 1482L160 1470L160 1458L160 1446L160 1434L160 1422L160 1410L160 1398L160 1386L160 1374L160 1362L160 1350L160 1338L160 1326L160 1314L160 1302L160 1290L160 1278L160 1266L160 1254L160 1242L160 1230L160 1218L160 1206L160 1194L160 1182L160 1170L160 1158L160 1146L160 1134L160 1122L160 1110L160 1098L160 1086L160 1074L160 1062L160 1050L160 1038L160 1026L160 1014L160 1002L160 990L160 978L160 966L160 954L160 942L160 930L160 918L160 906L160 894L160 882L160 870L160 858L160 846L160 834L160 822L160 810L160 804.7L172 798.2L172.3 798L184 792.4L191.3 786L196 781.9L203.8 774L208 770L216.4 762L220 758.8L230.5 750L232 749L244 747.2L256 746.5L267.4 750L268 750.2L280 752.6L288.7 750L292 748.8L304 743.7L316 740.2L323.7 738L328 737L340 735.4L352 732.6L364 726.8L365.4 726L376 719.9L385.1 714L388 712.1L400 703.8L402.3 702L412 693.4L416.9 690L424 685.9L436 683L448 683L460 684.9L472 688.2L484 687.6L496 685.1L508 681.6L515.9 678L520 676.4L532 672.7L544 668.6L549.6 666L556 662.8L568 655.7L571.5 654L580 649.9L592 645.4L604 642.8L608.3 642L616 640.2L628 635L638.6 630L640 618L640 618L652 609.2L656.6 606L664 603.3L676 600.1L688 597.6L700 600L712 599.6L724 598.5L736 597.2L748 595.4L760 594.1L772 595.2L784 596.4L796 598.5L808 601.4L820 605.3L821.4 606L832 616.3L832.9 618L839.6 630L844 636.8L848.6 642L856 644.7L868 643.7L880 643.6L887.6 642L892 639.7L904 634L916 631.4L923.3 630L928 627.3L940 619.9L950.6 618L952 614.6L957.9 618L964 618.2L966.7 618L976 613.9L979.4 606L981.1 594L979.4 582L978 570L988 559.5L988.8 558L998.8 546L1000 545.1L1012 539L1019.1 534L1024 532L1036 531.6L1048 531.4L1057.9 534L1060 534.3L1072 534.6L1073.2 534L1083.9 522L1084 521.8L1093.1 510Z"/>
<path fill="#ff9b52" fill-rule="evenodd" d="M1097 558L1108 552.3L1120 546.3L1120 558L1120 570L1120 582L1120 594L1120 606L1120 618L1120 630L1120 642L1120 654L1120 666L1120 678L1120 690L1120 702L1120 714L1120 726L1120 738L1120 750L1120 762L1120 774L1120 786L1120 798L1120 810L1120 822L1120 834L1120 846L1120 858L1120 870L1120 882L1120 894L1120 906L1120 918L1120 930L1120 942L1120 954L1120 966L1120 978L1120 990L1120 1002L1120 1014L1120 1026L1120 1038L1120 1050L1120 1062L1120 1074L1120 1086L1120 1098L1120 1110L1120 1122L1120 1134L1120 1146L1120 1158L1120 1170L1120 1182L1120 1194L1120 1206L1120 1218L1120 1230L1120 1242L1120 1254L1120 1266L1120 1278L1120 1290L1120 1302L1120 1314L1120 1326L1120 1338L1120 1350L1120 1362L1120 1374L1120 1386L1120 1398L1120 1410L1120 1422L1120 1434L1120 1446L1120 1458L1120 1470L1120 1482L1120 1494L1120 1506L1120 1518L1120 1530L1120 1542L1120 1554L1120 1566L1120 1578L1108 1578L1096 1578L1084 1578L1072 1578L1060 1578L1048 1578L1036 1578L1024 1578L1012 1578L1000 1578L988 1578L976 1578L964 1578L952 1578L940 1578L928 1578L916 1578L904 1578L892 1578L880 1578L868 1578L856 1578L844 1578L832 1578L820 1578L808 1578L796 1578L784 1578L772 1578L760 1578L748 1578L736 1578L724 1578L712 1578L700 1578L688 1578L676 1578L664 1578L652 1578L640 1578L628 1578L616 1578L604 1578L592 1578L580 1578L568 1578L556 1578L544 1578L532 1578L520 1578L508 1578L496 1578L484 1578L472 1578L460 1578L448 1578L436 1578L424 1578L412 1578L400 1578L388 1578L376 1578L364 1578L352 1578L340 1578L328 1578L316 1578L304 1578L292 1578L280 1578L268 1578L256 1578L244 1578L232 1578L220 1578L208 1578L196 1578L184 1578L172 1578L160 1578L160 1566L160 1554L160 1542L160 1530L160 1518L160 1506L160 1494L160 1482L160 1470L160 1458L160 1446L160 1434L160 1422L160 1410L160 1398L160 1386L160 1374L160 1362L160 1350L160 1338L160 1326L160 1314L160 1302L160 1290L160 1278L160 1266L160 1254L160 1242L160 1230L160 1218L160 1206L160 1194L160 1182L160 1170L160 1158L160 1146L160 1134L160 1122L160 1110L160 1098L160 1086L160 1074L160 1062L160 1050L160 1038L160 1026L160 1014L160 1002L160 990L160 978L160 966L160 954L160 942L160 930L160 918L160 906L160 894L160 882L160 870L160 858L160 854L172 846.2L172.5 846L184 843.5L196 845.6L198 846L208 849.2L220 852.4L232 854.6L244 852.9L256 849.2L262.2 846L268 842.6L280 835.2L281.6 834L292 825.7L296.7 822L304 817L315.7 810L316 809.9L328 803.5L334.9 798L340 794.1L349.3 786L352 784L364 774.6L364.7 774L376 766.1L380.7 762L388 756.9L396.6 750L400 747.6L412 738.9L413.4 738L424 732L436 729.1L448 727.5L460 726.4L468.6 726L472 725.9L484 725.4L496 724.8L508 723.9L520 722.3L532 717.9L542 714L544 713.1L556 703.8L558.6 702L568 695.2L580 690.4L582.3 690L592 688L604 688.4L616 689.2L620.9 690L628 691L640 691.1L641.1 690L652 681.3L657.4 678L664 673.5L676 667.5L677.3 666L683.2 654L688 648L693.7 642L700 636.6L712 630.4L715.3 630L724 628.2L736 622.7L748 621.2L760 621.3L772 623.1L784 625.3L796 629.1L798 630L808 636.4L814.4 642L820 645.9L832 652.4L837.1 654L844 655.7L856 659.5L868 657L879.9 654L880 654L892 654L904 650.3L916 648.8L928 647.7L940 647.5L952 647.2L964 645.4L974 642L976 641.3L988 635.1L995.6 630L1000 626.4L1010.1 618L1012 615.4L1016.5 606L1024 595L1024.7 594L1036 584.3L1039.5 582L1048 575.3L1060 570.3L1060.8 570L1072 564.3L1084 560.8L1096 558.3Z"/>
<path fill="#ff8947" fill-rule="evenodd" d="M1107.9 570L1108 570L1120 566.3L1120 570L1120 582L1120 594L1120 606L1120 618L1120 630L1120 642L1120 654L1120 666L1120 678L1120 690L1120 702L1120 714L1120 726L1120 738L1120 750L1120 762L1120 774L1120 786L1120 798L1120 810L1120 822L1120 834L1120 846L1120 858L1120 870L1120 882L1120 894L1120 906L1120 918L1120 930L1120 942L1120 954L1120 966L1120 978L1120 990L1120 1002L1120 1014L1120 1026L1120 1038L1120 1050L1120 1062L1120 1074L1120 1086L1120 1098L1120 1110L1120 1122L1120 1134L1120 1146L1120 1158L1120 1170L1120 1182L1120 1194L1120 1206L1120 1218L1120 1230L1120 1242L1120 1254L1120 1266L1120 1278L1120 1290L1120 1302L1120 1314L1120 1326L1120 1338L1120 1350L1120 1362L1120 1374L1120 1386L1120 1398L1120 1410L1120 1422L1120 1434L1120 1446L1120 1458L1120 1470L1120 1482L1120 1494L1120 1506L1120 1518L1120 1530L1120 1542L1120 1554L1120 1566L1120 1578L1108 1578L1096 1578L1084 1578L1072 1578L1060 1578L1048 1578L1036 1578L1024 1578L1012 1578L1000 1578L988 1578L976 1578L964 1578L952 1578L940 1578L928 1578L916 1578L904 1578L892 1578L880 1578L868 1578L856 1578L844 1578L832 1578L820 1578L808 1578L796 1578L784 1578L772 1578L760 1578L748 1578L736 1578L724 1578L712 1578L700 1578L688 1578L676 1578L664 1578L652 1578L640 1578L628 1578L616 1578L604 1578L592 1578L580 1578L568 1578L556 1578L544 1578L532 1578L520 1578L508 1578L496 1578L484 1578L472 1578L460 1578L448 1578L436 1578L424 1578L412 1578L400 1578L388 1578L376 1578L364 1578L352 1578L340 1578L328 1578L316 1578L304 1578L292 1578L280 1578L268 1578L256 1578L244 1578L232 1578L220 1578L208 1578L196 1578L184 1578L172 1578L160 1578L160 1566L160 1554L160 1542L160 1530L160 1518L160 1506L160 1494L160 1482L160 1470L160 1458L160 1446L160 1434L160 1422L160 1410L160 1398L160 1386L160 1374L160 1362L160 1350L160 1338L160 1326L160 1314L160 1302L160 1290L160 1278L160 1266L160 1254L160 1242L160 1230L160 1218L160 1206L160 1194L160 1182L160 1170L160 1158L160 1146L160 1134L160 1122L160 1110L160 1098L160 1086L160 1074L160 1062L160 1050L160 1039.6L164.6 1038L172 1034.8L184 1029.7L193.3 1026L196 1024.9L208 1020.1L220 1016.2L226.4 1014L232 1011.8L244 1006.9L256 1002.6L257.6 1002L268 997.2L280 991.9L284.1 990L292 985.6L304 979.8L307.1 978L316 970.8L321.8 966L328 959.9L334.4 954L340 947.8L344.4 942L352 932.4L353.6 930L360.6 918L364 912.1L367 906L372.7 894L376 887L377.9 882L382.5 870L388 861.1L390.2 858L400 850.1L411.1 846L412 845.7L424 840.4L436 837.9L448 836.2L457.2 834L460 832.8L472 826.4L478.4 822L484 815.1L489 810L496 802.3L500.4 798L508 789.3L510.4 786L519.1 774L520 773L530.6 762L532 760.8L542.2 750L544 748.4L552.2 738L556 734.2L565.2 726L568 724L580 717.5L592 714.4L604 716L616 718.7L628 723.8L635.1 726L640 734.5L643.6 726L651.8 714L652 713.8L657.4 702L664 690L664 690L676 684.6L683.6 678L688 671.8L692 666L699.1 654L700 653.1L712 642.2L712.8 642L724 640.7L736 637.3L748 639L754.8 642L759.5 654L760 656.6L762.5 666L760 673.3L758.2 678L755.7 690L760 695L772 692.7L784 691.2L786.6 690L796 683.8L808 679L810.8 678L820 673.6L832 672.8L844 673L856 673L868 672.1L880 671.1L892 667.8L899.1 666L904 664.3L910.4 666L916 667.2L928 668.7L940 670.1L952 670.4L962 666L964 664.9L976 656.2L980.5 654L988 649.2L1000 643L1001.1 642L1012 632.2L1014.6 630L1024 618.1L1024 618L1031.5 606L1036 600.7L1044.8 594L1048 591.7L1060 584.8L1068.2 582L1072 580.6L1084 576.3L1096 573.2Z"/>
<path fill="#ff763d" fill-rule="evenodd" d="M1116.7 582L1120 581.4L1120 582L1120 594L1120 606L1120 618L1120 630L1120 642L1120 654L1120 666L1120 678L1120 690L1120 702L1120 714L1120 726L1120 738L1120 750L1120 762L1120 774L1120 786L1120 798L1120 810L1120 822L1120 834L1120 846L1120 858L1120 870L1120 882L1120 894L1120 906L1120 918L1120 930L1120 942L1120 954L1120 966L1120 978L1120 990L1120 1002L1120 1014L1120 1026L1120 1038L1120 1050L1120 1062L1120 1074L1120 1086L1120 1098L1120 1110L1120 1122L1120 1134L1120 1146L1120 1158L1120 1170L1120 1182L1120 1194L1120 1206L1120 1218L1120 1230L1120 1242L1120 1254L1120 1266L1120 1278L1120 1290L1120 1302L1120 1314L1120 1326L1120 1338L1120 1350L1120 1362L1120 1374L1120 1386L1120 1398L1120 1410L1120 1422L1120 1434L1120 1446L1120 1458L1120 1470L1120 1482L1120 1494L1120 1506L1120 1518L1120 1530L1120 1542L1120 1554L1120 1566L1120 1578L1108 1578L1096 1578L1084 1578L1072 1578L1060 1578L1048 1578L1036 1578L1024 1578L1012 1578L1000 1578L988 1578L976 1578L964 1578L952 1578L940 1578L928 1578L916 1578L904 1578L892 1578L880 1578L868 1578L856 1578L844 1578L832 1578L820 1578L808 1578L796 1578L784 1578L772 1578L760 1578L748 1578L736 1578L724 1578L712 1578L700 1578L688 1578L676 1578L664 1578L652 1578L640 1578L628 1578L616 1578L604 1578L592 1578L580 1578L568 1578L556 1578L544 1578L532 1578L520 1578L508 1578L496 1578L484 1578L472 1578L460 1578L448 1578L436 1578L424 1578L412 1578L400 1578L388 1578L376 1578L364 1578L352 1578L340 1578L328 1578L316 1578L304 1578L292 1578L280 1578L268 1578L256 1578L244 1578L232 1578L220 1578L208 1578L196 1578L184 1578L172 1578L160 1578L160 1566L160 1554L160 1542L160 1530L160 1518L160 1506L160 1494L160 1482L160 1470L160 1458L160 1446L160 1434L160 1422L160 1410L160 1398L160 1386L160 1374L160 1362L160 1350L160 1338L160 1326L160 1314L160 1302L160 1290L160 1278L160 1266L160 1254L160 1242L160 1230L160 1218L160 1206L160 1194L160 1182L160 1170L160 1158L160 1146L160 1134L160 1122L160 1110L160 1107.9L169.7 1098L172 1096.2L184 1086.1L184.2 1086L196 1076.6L199.1 1074L208 1068L215.5 1062L220 1059.1L232 1050.1L232.1 1050L244 1042L248.8 1038L256 1033.6L268 1027.3L270.7 1026L280 1021.3L292 1015.1L293.9 1014L304 1007.9L313.2 1002L316 1000.3L328 992.7L332.3 990L340 985L352 978.7L353.1 978L364 966.4L364.5 966L374.8 954L376 952.4L384.6 942L388 937.2L393.7 930L399.9 918L400 917.9L408.4 906L411.2 894L412 890.5L414.3 882L421.2 870L424 867.6L435.9 858L436 858L448 855.6L460 852.4L472 847.7L476.4 846L484 843.9L496 840L508 835.6L510.8 834L520 827.3L527.5 822L532 818.1L541.6 810L544 804.6L546.2 798L550.4 786L555 774L556 772L561.2 762L567.8 750L568 749.7L578.7 738L580 737.2L592 733.3L604 736L609.7 738L616 741.4L628 749.1L629.4 750L640 758.2L650.3 762L652 763.1L664 766.9L676 762.4L676.7 762L688 755.5L696.1 750L700 747L712 739L713.9 738L724 733.3L736 729.2L748 728.8L760 727.7L762.6 726L772 720.4L780.7 714L784 712.1L796 703.8L798.6 702L808 696.7L818.6 690L820 689.4L832 688.3L844 687.6L856 687.1L868 686.1L880 684.3L892 678.5L893.6 678L904 676.2L911.7 678L916 679.6L928 680.1L940 682.6L952 683.5L959.5 678L964 675.4L974.8 666L976 665.1L988 660L996.7 654L1000 652L1011.5 642L1012 641.5L1024 632.2L1026.9 630L1035.6 618L1036 617.3L1046.5 606L1048 604.8L1060 599.1L1069.8 594L1072 593.2L1084 590.4L1096 587.5L1108 584.3Z"/>
<path fill="#ff5f30" fill-rule="evenodd" d="M1068.5 618L1072 616.4L1084 613.2L1096 611.1L1108 610.2L1120 611.1L1120 618L1120 630L1120 642L1120 654L1120 666L1120 678L1120 690L1120 702L1120 714L1120 726L1120 738L1120 750L1120 762L1120 774L1120 786L1120 798L1120 810L1120 822L1120 834L1120 846L1120 858L1120 870L1120 882L1120 894L1120 906L1120 918L1120 930L1120 942L1120 954L1120 966L1120 978L1120 990L1120 1002L1120 1014L1120 1026L1120 1038L1120 1050L1120 1062L1120 1074L1120 1086L1120 1098L1120 1110L1120 1122L1120 1134L1120 1146L1120 1158L1120 1170L1120 1182L1120 1194L1120 1206L1120 1218L1120 1230L1120 1242L1120 1254L1120 1266L1120 1278L1120 1290L1120 1302L1120 1314L1120 1326L1120 1338L1120 1350L1120 1362L1120 1374L1120 1386L1120 1398L1120 1410L1120 1422L1120 1434L1120 1446L1120 1458L1120 1470L1120 1482L1120 1494L1120 1506L1120 1518L1120 1530L1120 1542L1120 1554L1120 1566L1120 1578L1108 1578L1096 1578L1084 1578L1072 1578L1060 1578L1048 1578L1036 1578L1024 1578L1012 1578L1000 1578L988 1578L976 1578L964 1578L952 1578L940 1578L928 1578L916 1578L904 1578L892 1578L880 1578L868 1578L856 1578L844 1578L832 1578L820 1578L808 1578L796 1578L784 1578L772 1578L760 1578L748 1578L736 1578L724 1578L712 1578L700 1578L688 1578L676 1578L664 1578L652 1578L640 1578L628 1578L616 1578L604 1578L592 1578L580 1578L568 1578L556 1578L544 1578L532 1578L520 1578L508 1578L496 1578L484 1578L472 1578L460 1578L448 1578L436 1578L424 1578L412 1578L400 1578L388 1578L376 1578L364 1578L352 1578L340 1578L328 1578L316 1578L304 1578L292 1578L280 1578L268 1578L256 1578L244 1578L232 1578L220 1578L208 1578L196 1578L184 1578L172 1578L160 1578L160 1566L160 1554L160 1542L160 1530L160 1518L160 1506L160 1494L160 1482L160 1470L160 1458L160 1446L160 1434L160 1422L160 1410L160 1398L160 1386L160 1374L160 1362L160 1350L160 1338L160 1326L160 1314L160 1302L160 1290L160 1278L160 1266L160 1254L160 1242L160 1230L160 1227.4L172 1224.9L184 1223.4L196 1224.5L208 1225.6L220 1224.8L232 1223.1L244 1219.8L249.9 1218L256 1215.6L268 1208L271.3 1206L280 1199.6L289.3 1194L292 1191.9L304 1182.4L304.5 1182L316 1172.1L318.3 1170L326.4 1158L328 1155.5L338.4 1146L339.6 1134L337.8 1122L340 1115.5L343.1 1110L352 1098.2L352.8 1098L356.5 1086L364 1077.4L366.2 1074L376 1064.1L380.6 1062L388 1059.6L400 1055.7L412 1051.8L424 1054.6L435.6 1050L436 1049.8L448 1040.7L451 1038L460 1030.2L463.5 1026L472 1016.2L473.5 1014L480 1002L481.9 990L483.1 978L484 970.4L484.4 966L487 954L492.4 942L496 935.3L498.7 930L506.6 918L508 916L513.4 906L520 894.2L520.1 894L523.7 882L527.1 870L532 859.6L534 858L544 855.7L556 847.8L558.5 846L568 839.7L574.9 834L580 829.8L591.3 822L592 821.5L604 816.1L616 813.6L628 814.2L640 816L652 820.1L659.6 822L664 824.1L676 833.7L676.5 834L688 844.7L700 845.3L702.9 846L712 847.8L724 847.7L733.3 846L736 845.1L748 835.7L749.5 834L752.1 822L754.4 810L758.8 798L760 795.1L762.8 786L765.9 774L769.3 762L772 758.8L779.3 750L784 745.8L793.1 738L796 735.9L808 728.8L814.3 726L820 724L832 723.4L844 723.2L856 722.9L868 722.5L880 720.1L890.7 714L892 713.5L904 708.2L916 705L928 703.5L940 704L952 703.3L954 702L964 696L970.5 690L976 685.6L984.2 678L988 675.3L998.5 666L1000 665.1L1012 656.7L1015.4 654L1024 648.3L1033.5 642L1036 640.4L1048 632.8L1052 630L1060 623ZM352.3 1002L364 997.4L376 992.9L388 998L396.6 1002L400 1008.3L406.9 1014L401.4 1026L400 1027.3L388 1033.7L376 1037.1L374.7 1038L364 1048.5L355.5 1050L352 1052.4L340 1059.9L328 1061.7L326.5 1062L316 1071.1L304 1072.6L292 1066.3L287.5 1062L280 1053.7L279.8 1050L280 1049.9L292 1048.1L304 1044.2L310.6 1038L316 1035.5L325.7 1026L328 1024.1L337.7 1014L340 1011.8L352 1002.2Z"/>
<path fill="#ff4a26" fill-rule="evenodd" d="M1099.1 666L1108 664.9L1120 664.4L1120 666L1120 678L1120 690L1120 702L1120 714L1120 726L1120 738L1120 750L1120 762L1120 774L1120 786L1120 798L1120 810L1120 822L1120 834L1120 846L1120 858L1120 870L1120 882L1120 894L1120 906L1120 918L1120 930L1120 942L1120 954L1120 966L1120 978L1120 990L1120 1002L1120 1014L1120 1026L1120 1038L1120 1050L1120 1062L1120 1074L1120 1086L1120 1098L1120 1110L1120 1122L1120 1134L1120 1146L1120 1158L1120 1170L1120 1182L1120 1194L1120 1206L1120 1218L1120 1230L1120 1242L1120 1254L1120 1266L1120 1278L1120 1290L1120 1302L1120 1314L1120 1326L1120 1338L1120 1350L1120 1362L1120 1374L1120 1386L1120 1398L1120 1410L1120 1422L1120 1434L1120 1446L1120 1458L1120 1470L1120 1482L1120 1494L1120 1506L1120 1518L1120 1530L1120 1542L1120 1554L1120 1566L1120 1578L1108 1578L1096 1578L1084 1578L1072 1578L1060 1578L1048 1578L1036 1578L1024 1578L1012 1578L1000 1578L988 1578L976 1578L964 1578L952 1578L940 1578L928 1578L916 1578L904 1578L892 1578L880 1578L868 1578L856 1578L844 1578L832 1578L820 1578L808 1578L796 1578L784 1578L772 1578L760 1578L748 1578L736 1578L724 1578L712 1578L700 1578L688 1578L676 1578L664 1578L652 1578L640 1578L628 1578L616 1578L604 1578L592 1578L580 1578L568 1578L556 1578L544 1578L532 1578L520 1578L508 1578L496 1578L484 1578L472 1578L460 1578L448 1578L436 1578L424 1578L412 1578L400 1578L388 1578L376 1578L364 1578L352 1578L340 1578L328 1578L316 1578L304 1578L292 1578L280 1578L268 1578L256 1578L244 1578L232 1578L220 1578L208 1578L196 1578L184 1578L172 1578L160 1578L160 1566L160 1554L160 1542L160 1530L160 1518L160 1506L160 1494L160 1482L160 1470L160 1458L160 1446L160 1434L160 1422L160 1410L160 1398L160 1395.9L171.3 1386L172 1385.4L183.7 1374L184 1373.8L195.8 1362L196 1361.8L207 1350L208 1348.9L217.8 1338L220 1335.5L227.6 1326L232 1320.9L237.9 1314L244 1307.9L249.8 1302L256 1296.1L262.2 1290L268 1285L275.8 1278L280 1274.5L289.5 1266L292 1264.1L304 1255L305.3 1254L316 1246.2L322.8 1242L328 1239.2L340 1232.9L345.8 1230L352 1227.1L364 1222L373.8 1218L376 1217.1L388 1212.7L400 1208.2L406.7 1206L412 1204L424 1198.5L434.5 1194L436 1193.3L448 1188.2L460 1183.7L466.3 1182L472 1180.4L484 1178.4L496 1175L504 1170L508 1166.1L512.1 1158L518.1 1146L520 1142.4L523 1134L526.2 1122L526.5 1110L528.7 1098L532 1090.5L534 1086L544 1075.9L545.9 1074L556 1064.1L558 1062L568 1050L568 1050L574.9 1038L579.8 1026L580 1025.4L587.5 1014L591.5 1002L590.9 990L592 982.7L593 978L592 971.7L591.6 966L592 965.6L604 962.9L616 961.3L628 959.1L640 958.6L652 961.9L662.6 966L664 966.8L676 977.9L676.2 978L683.1 990L688 1001.7L700 994.4L707 990L712 987.7L724 981.3L730.7 978L736 974.3L744.9 966L748 963.1L757.9 954L760 953L763.2 954L772 958.4L783.6 966L784 966.2L794.5 978L796 979.4L808 988.6L810.2 990L820 1000.3L821.9 1002L831.2 1014L832 1016.1L838.4 1026L842.8 1038L844 1048L844.3 1050L844 1050.6L832.4 1062L832 1062.1L820 1067L808 1071.8L803.7 1074L796 1077.9L784 1083.4L776.5 1086L772 1087.7L760 1093.2L748 1097.4L747.2 1098L742.3 1110L740 1122L745.6 1134L748 1137.3L756.3 1146L760 1147.5L772 1147.6L784 1146.4L785.2 1146L796 1140L808 1135.1L810 1134L820 1126.8L829.3 1122L832 1119.7L844 1110.2L844.2 1110L856 1098.4L856.4 1098L858.5 1086L859.9 1074L868 1068.5L880 1064.8L892 1063.8L904 1063.2L911 1062L916 1060.6L928 1057.9L940 1052.2L944.8 1050L952 1045.3L964 1038L964.1 1038L976 1028.1L978.2 1026L985.8 1014L988 1009.7L991.5 1002L993.5 990L993 978L992 966L989.9 954L988 942L988 930L988 930L976 924L964 924L952 918L961.5 906L952 895.5L950.1 894L940 889.5L933.1 882L928 877L925 870L921 858L928 848.1L929.7 846L940 835.9L941.6 834L952 823.4L952.9 822L959.1 810L963.7 798L964 797.3L968.6 786L976 777.7L979.4 774L988 766.1L992 762L1000 754.5L1005.7 750L1012 744.6L1021.1 738L1024 735.1L1036 726.8L1037.2 726L1048 715.5L1050.8 714L1060 705.1L1061.2 702L1066.3 690L1072 685.5L1080.6 678L1084 676L1096 666.7ZM640 1026L639.9 1026L640 1026L640 1026ZM640 1242L640 1242L630.7 1254L628 1260.6L627 1266L628 1267L640 1271.1L652 1267L653.4 1266L661.7 1254L664 1248.3L665 1242L664 1240.5L652 1237.7ZM976 954L976 948L976 954L976 954Z"/>
<path fill="#ff351b" fill-rule="evenodd" d="M916.2 1158L928 1156.7L932.3 1158L940 1162.5L952 1168.2L961.5 1170L964 1170.5L976 1171.6L985 1170L988 1169.5L1000 1167.8L1012 1165L1024 1161.1L1036 1169.3L1036.9 1170L1036 1176.4L1035 1182L1033.8 1194L1036 1195.7L1047.8 1206L1048 1206.1L1048.2 1206L1060 1198.4L1072 1194.3L1078.5 1194L1084 1193.8L1096 1193.1L1108 1190.7L1120 1188.2L1120 1194L1120 1206L1120 1218L1120 1230L1120 1242L1120 1254L1120 1266L1120 1278L1120 1290L1120 1302L1120 1314L1120 1326L1120 1338L1120 1350L1120 1362L1120 1374L1120 1386L1120 1398L1120 1410L1120 1422L1120 1434L1120 1446L1120 1458L1120 1470L1120 1482L1120 1494L1120 1506L1120 1518L1120 1530L1120 1542L1120 1554L1120 1566L1120 1578L1108 1578L1096 1578L1084 1578L1072 1578L1060 1578L1048 1578L1036 1578L1024 1578L1012 1578L1000 1578L988 1578L976 1578L964 1578L952 1578L940 1578L928 1578L916 1578L904 1578L892 1578L880 1578L868 1578L856 1578L844 1578L832 1578L820 1578L808 1578L796 1578L784 1578L772 1578L760 1578L748 1578L736 1578L724 1578L712 1578L700 1578L688 1578L676 1578L664 1578L652 1578L640 1578L628 1578L616 1578L604 1578L592 1578L580 1578L568 1578L556 1578L544 1578L532 1578L520 1578L508 1578L496 1578L484 1578L472 1578L460 1578L448 1578L436 1578L424 1578L412 1578L400 1578L388 1578L376 1578L364 1578L352 1578L340 1578L328 1578L316 1578L304 1578L292 1578L280 1578L268 1578L256 1578L244 1578L232 1578L220 1578L208 1578L196 1578L184 1578L172 1578L160 1578L160 1566L160 1554L160 1542L160 1530L160 1518L160 1506.9L160.8 1506L172 1499.8L180.5 1494L184 1492.1L196 1485.6L202.2 1482L208 1479L220 1471.2L221.9 1470L232 1464L242.6 1458L244 1457.3L256 1450.6L262.2 1446L268 1442L278.6 1434L280 1433L292 1423.9L294.5 1422L304 1415L311.1 1410L316 1407.1L328 1400.4L333.3 1398L340 1395.4L352 1390.7L363.7 1386L364 1385.9L376 1381.8L388 1377.4L396.6 1374L400 1372.8L412 1368.8L424 1364L429.3 1362L436 1359.9L448 1356L460 1351L463.9 1350L472 1348.8L474.7 1350L484 1358.6L490.8 1362L496 1364L508 1366.2L520 1366.9L532 1363.8L535.3 1362L544 1358.3L556 1354.7L568 1352.7L580 1352.5L592 1355.5L604 1361.1L606.1 1362L616 1367.6L628 1370.8L640 1373.1L642.9 1374L652 1378.4L664 1381.8L676 1384.4L686.1 1386L688 1386.2L688.8 1386L700 1382.3L712 1378.1L719.6 1374L724 1370.8L736 1363.2L737.5 1362L748 1351.7L750.2 1350L760 1338L760 1338L768.7 1326L772 1321.3L777.6 1314L784 1305.8L787.1 1302L795.7 1290L796 1289.5L801.4 1278L805.4 1266L808 1256.5L808.7 1254L812.3 1242L816.5 1230L820 1221.7L821.9 1218L831.5 1206L832 1205.5L842.5 1194L844 1192.8L855.8 1182L856 1181.9L868 1177.4L880 1171.3L882.8 1170L892 1166.6L904 1162.1L916 1158Z"/>
<path fill="#ff1f10" fill-rule="evenodd" d="M1066.7 1398L1072 1396.4L1084 1395.1L1096 1394.9L1108 1397.6L1109.2 1398L1120 1403.6L1120 1410L1120 1422L1120 1434L1120 1446L1120 1458L1120 1470L1120 1482L1120 1494L1120 1506L1120 1518L1120 1530L1120 1542L1120 1554L1120 1566L1120 1578L1108 1578L1096 1578L1084 1578L1072 1578L1060 1578L1048 1578L1036 1578L1024 1578L1012 1578L1000 1578L988 1578L976 1578L964 1578L952 1578L940 1578L928 1578L916 1578L904 1578L892 1578L880 1578L868 1578L856 1578L844 1578L832 1578L820 1578L808 1578L796 1578L784 1578L772 1578L760 1578L756.7 1578L760 1576.3L772 1573.1L784 1571.6L796 1570.6L808 1569.8L820 1570.3L832 1571L844 1571.4L856 1571.6L868 1571.8L880 1571.8L892 1571.1L904 1570L916 1566.8L918.2 1566L928 1561.7L939.8 1554L940 1553.8L949 1542L952 1537.6L956.1 1530L960.3 1518L964 1506.8L964.3 1506L966.8 1494L969.4 1482L972.4 1470L975.3 1458L976 1456.2L980.4 1446L988 1435.8L991.3 1434L1000 1431.6L1012 1427.6L1023.6 1422L1024 1421.8L1036 1415.8L1043 1410L1048 1406.9L1060 1401.1Z"/>
</g>
<g stroke="none">
<path fill="#a2f9a0" d="M588.9 272.7 L615.1 271.7 L619.8 282 L611.4 287.6 L590.8 285.8Z"/>
<path fill="#c0eb8d" d="M605.8 233.4 L615.1 227.8 L641.3 231.5 L641.3 239 L624.5 239.9Z"/>
<path fill="#ffac5c" d="M1055.8 473.4 L1070.8 455.6 L1081.1 473.4 L1070.8 486.1Z"/>
<path fill="#ff9b52" d="M699.9 691 L714.8 683.5 L727.9 691 L718.6 711.5 L709.2 713.4Z"/>
<path fill="#ff1f10" d="M400.4 1445.6 L407.5 1429.7 L418.7 1409.1 L437.4 1397.9 L456.1 1385.7 L471.1 1382 L497.3 1384.8 L519.7 1399.7 L541.2 1410 L530.9 1429.7 L521.6 1444.6 L497.3 1450.2 L471.1 1451.2 L446.8 1459.6 L422.4 1467.1 L400.4 1468.9Z"/>
<path fill="#ebca70" d="M805.5 211 L807.4 201.6 L811.2 210Z"/>
<path fill="#cee184" d="M951.1 235.3 L962.3 233.8 L963.2 236.2 L953 238.1Z"/>
<path fill="#cee184" d="M964.2 282 L975.4 277.4 L979.1 283 L973.5 286.7Z"/>
<path fill="#cee184" d="M879.1 302.6 L883.7 306.4 L879.1 312Z"/>
<path fill="#ff351b" d="M512.2 1314.1 L518.8 1307.5 L525 1314.1 L518.8 1320.6Z"/>
<path fill="#ebca70" d="M852 620 L858 607 L880 606 L896 619 L880 637 L862 630Z"/>
<path fill="#ff763d" d="M719.9 652.6 L726.9 642.5 L735.5 638.6 L740.9 642.5 L746.8 666.2 L735.5 677.5 L723 672.1 L713.5 665Z"/>
<path fill="#ebca70" d="M968.5 162.4 L999.7 156.2 L1004 160 L1010 168 L998.5 174.3 L987.2 170.5 L974.8 166.8Z"/>
<path fill="#ebca70" d="M891.2 186.1 L927.4 173.7 L947.3 186.8 L951.7 209.8 L927.4 229.8 L918 234.1 L912 250 L907 260 L897.5 258.5 L888.7 233.5 L887.5 209.8Z"/>
<path fill="#f9bb66" d="M918.7 186.1 L929.9 183.6 L933.6 192.4 L932.4 199.9 L937.4 208 L934.9 212.3 L927.4 219.2 L909.9 210.4 L914.9 199.9 L916.2 192.4Z"/>
<path fill="#dcd67a" d="M1035.1 353.8 L1050.9 329.8 L1071.7 314 L1094.6 328.2 L1103.3 330.4 L1082.6 344.6 L1067.3 353.8 L1047.7 356.6Z"/>
<path fill="#ebca70" d="M899.6 330.7 L903.4 324.1 L910.9 330.7 L903.4 340Z"/>
</g>
<g fill="none" stroke="#000" stroke-width="2.4" stroke-linejoin="round" stroke-linecap="round">
<path d="M443 138.9 L442.1 145.5 L438.3 147.7 L431.8 146.4 L429.9 142.7 L422.4 141.7 L414 145.5 L418.7 147.4 L426.2 149.2 L429.9 154.8 L435.5 159.5 L444.9 162.3 L456.1 160.4 L467.3 155.8 L476.7 152 L482.3 152 L480.4 156.7 L474.8 160.4 L463.6 166.1 L456.1 172.6 L452.4 177.3 L446.8 176.3 L441.2 177.3 L440.2 188.5 L435.5 185.7 L431.8 196 L440.2 196.9 L449.6 196 L456.1 192.2 L465.5 189.4 L476.7 186.6 L482.3 181 L487 175.4 L490.7 174.5 L491.1 182.9 L487.9 187 L478.6 191.3 L469.2 196 L458 201.6 L448.6 208.1 L444 214.7 L437.4 219.4 L443 223.1 L442.1 226.9 L435.5 228.7 L424.3 229.7 L423.9 235.3 L426.2 259.6 L428.1 283 L431.8 283.9 L441.2 278.3 L450.5 275.5 L456.1 271.7 L459.9 265.2 L469.2 261.5 L478.6 257.7 L484.2 249.3 L489.8 246.1 L502.9 244.6 L516 239.9 L530.9 237.1 L545.9 235.3 L557.1 233.4 L568.4 227.8 L579.6 225 L587.1 222.2"/>
<path d="M587.1 222.2 L594.5 217.5 L596.4 209.1 L600.2 198.8 L590.8 200.7 L582.4 202.5 L574.9 196 L573 191.3 L575.8 182.9 L568.4 180.1 L563.7 172.6 L563.7 166.1 L559 156.7 L558.1 147.4 L559 139.9"/>
<path d="M587.1 222.2 L589.9 229.7 L590.8 239 L594.5 243.7 L605.8 240.9 L613.3 243.7 L617 250.2 L615.1 255.8 L605.8 261.5 L596.4 267.1 L588.9 274.6 L584.3 282 L585.2 287.6 L590.8 291.4 L596.4 295.1 L597.3 302.6"/>
<path d="M597.3 302.6 L592.7 303.5 L579.6 308.2 L564.6 313.8 L549.6 315.7 L538.4 316.6 L529.1 320.4 L519.7 322.3 L516 326.9 L515 332.5 L510.4 340 L507.6 346.6 L501 344.7 L486 341.9 L482.3 344.7 L469.2 345.6 L456.1 348.4 L446.8 350.3 L443 349.4"/>
<path d="M597.3 302.6 L605.8 303.5 L617 304.1 L628.2 302.6 L640 293.3"/>
<path d="M628.2 302.6 L624.5 312 L618.9 325.1 L611.4 332.5 L622.6 330.7 L632 329.7 L640 333.5"/>
<path d="M456.1 275.5 L446.8 283 L435.5 289.5 L429.9 293.3 L428.1 302.6 L428.1 317.6 L430.9 325.1 L437.4 330.7 L448.6 329.7 L461.7 327.9 L473 324.5 L461.7 330.7 L441.2 334.4 L440.2 340 L443 349.4 L446.8 362.5 L450.5 378"/>
<path d="M675.5 138 L686.8 143.6 L698 150.2 L707.3 150.2 L718.6 155.8 L731.7 161.9 L741 160.4 L754.1 163.3 L767.2 158.6 L776.6 154.8 L782.2 152 L791.5 157.6 L802.7 156.3 L815.8 159.5 L823.3 169.8 L830.8 180.1 L838.3 164.2 L843.9 153.9 L853.3 148.3 L862.6 138"/>
<path d="M640 291.4 L647.5 290.5 L653.1 290.5 L656.8 281.1 L661.5 279.2 L664.3 292.3 L671.8 292.3 L677.4 287.6 L686.8 287.3 L698 284.8 L706.4 282 L718.6 287.6 L732.6 288.6 L729.8 297 L735.4 300.4 L744.8 299.2 L752.2 296.1 L755.6 290.5 L761.6 292.3 L768.1 295.1 L773.2 304.5 L784 297 L799 295.1 L814 291.4 L825.2 287.6 L830.8 283 L832.7 276.4 L830.8 268.9 L834.5 264.3 L843.9 261.1 L851.4 265.2 L859.8 269.9 L867.3 272.3 L880 268"/>
<path d="M830.8 283.9 L830.4 297 L832.7 306.4 L837.3 313.8 L836.4 320.4 L830.8 325.1 L825.2 336.3 L820.5 347.5 L817.7 356.9 L819.6 366.2 L822.4 371.8 L815.8 373.7 L810.2 378"/>
<path d="M640 333.5 L642.8 336.3 L641.9 343.8 L640 351.3 L651.2 355 L664.3 356.9 L671.8 355 L677.4 351.3 L684.9 359.7 L677.4 370 L671.8 375.6 L664.3 378"/>
<path d="M880 234.3 L873.8 240.9 L877.6 245.6 L880 246.1"/>
<path d="M883.7 138 L902.4 138.9 L923 140.8 L925.8 147.4 L924 154.8 L918.3 159.5 L928.6 166.1 L939.9 172.6 L943.2 178.2 L942.7 185.7 L938 192.2 L931.4 197.9 L926.8 201.6 L925.8 205.3 L917.4 205.3 L908.1 208.1 L898.7 214.7 L891.2 222.2 L888.4 228.7 L880 233.4"/>
<path d="M931.4 197.9 L941.7 202.5 L951.1 207.2 L963.2 206.3 L971.7 209.1 L988.5 209.1 L1001.6 213.8 L1016.6 210 L1029.6 210 L1039 210 L1044.6 208.1 L1050.2 214.7 L1059.6 218.4 L1068.9 222.6 L1085.8 221.2 L1109.2 220.3 L1120 224"/>
<path d="M880 246.1 L886.5 250.2 L881.9 259.6 L881.9 267.1 L889.4 270.8 L895 272.7 L913.7 271.7 L920.2 268.9 L922.1 262.4 L928.6 263.3 L938 272.7 L945.5 274.6 L962.3 274.2 L969.8 271.7 L973.5 267.1 L981 269.9 L983.8 276.4 L981.9 285.8 L993.2 290.5 L990.4 297 L986.6 313.8 L981 320.4 L983.8 326.9 L986.6 336.3 L992.2 341 L997.8 341.9 L1009.1 336.3 L1022.2 337.2 L1037.1 340 L1052.1 345.6 L1063.3 353.1 L1070.8 360.6 L1059.6 373.7 L1054 378"/>
<path d="M450.5 378 L453.3 385.5 L450.9 394.8 L451.4 402.3 L456.1 410.7 L459.9 417.3 L461.7 428.5 L464.5 434.1 L463.2 438.8 L467.3 445.3 L472 454.7 L474.8 460.3 L484.2 462.2 L479.5 467.8 L480.1 479 L481.7 490.2 L482.3 497.7 L478.6 512.7 L476.7 520.3"/>
<path d="M453.3 385.9 L459.9 386.4 L467.3 389.2 L478.6 391.1 L489.8 397.6 L496.3 401.4 L490.7 406.1 L490.7 410.7 L494.5 413.9 L512.2 413.5 L519.7 409.8 L527.2 407.9 L538.4 410.7 L557.1 407.9 L562.7 410.7 L577.7 406.1 L587.1 399 L598.3 402.3 L603.9 407 L605.8 409.8 L615.1 414.5 L624.5 417.3 L632 420.7 L640 416.3"/>
<path d="M482.3 494.4 L493.5 493 L499.1 494.9 L512.2 490.2 L521.6 494.4 L531.9 485 L540.3 492.1 L545.9 495.8 L545 490.2 L551.5 486.5 L557.1 487.4 L570.2 479 L583.3 475.3 L594.5 472.5 L611.4 473 L624.5 472.5 L640 468.7"/>
<path d="M570.2 479 L579.6 482.8 L586.1 486.5 L586.1 494.9 L590.8 497.7 L598.3 500.5 L605.8 502.4 L611.4 501.5 L613.3 496.8 L617.9 496.2 L617 501.5 L609.5 510.8 L609.1 516.4 L612.3 525.8 L613.3 532.3 L607.6 533.3 L598.3 531.4 L587.1 532.9 L579.6 533.6 L583.3 540.7 L575.8 550.1 L568.4 557.6 L561.8 563.2 L562.7 568.8 L568.4 574.4 L569.3 581.9 L577.7 589.4 L568.4 593.1 L566.5 598.7 L572.1 608.1 L577.7 616.5 L568.4 618"/>
<path d="M640 416.3 L645.6 411.7 L647.5 404.2 L654 391.1 L658.7 381.7 L665.3 378"/>
<path d="M645.6 411.7 L649.4 418.2 L659.6 424.8 L661.5 430.4 L669.9 439.4 L667.1 447.2 L665.3 458.4"/>
<path d="M640 468.7 L653.1 465 L665.3 459.4 L680.2 453.8 L686.8 455.6 L694.2 460.3 L703.6 461.2 L720.4 455.1 L733.5 455.6 L746.6 454.7 L761.6 450.6 L778.4 446.3 L787.8 454.7 L795.3 458.8 L806.5 460.3 L825.2 458.8 L838.3 460.3 L845.8 454.7 L852.3 452.5 L850.4 459.4 L857.9 463.1 L857.9 471.5 L862.6 477.1 L880 484.6"/>
<path d="M778.4 446.3 L776.6 442.5 L784 438.8 L785.9 431.3 L790.6 426.6 L791.5 421 L802.7 416.9 L795.3 411.7 L792.5 400.4 L793.4 392 L804.6 385.5 L811.2 378"/>
<path d="M806.5 460.3 L802.7 471.5 L799 482.8 L799 492.1 L790.6 495.8 L791.5 499.6 L799 503.3 L799 510.8 L791.5 517.4 L784 517.4 L778.4 519.2 L780.3 527.6 L774.7 538.9 L770.9 541.7 L763.5 537 L754.1 530.5 L744.8 528.6 L739.1 532.3 L735.4 540.7 L730.7 547.3 L733.5 552 L741 557.6 L738.2 564.1 L743.8 568.8 L749.4 574.4 L748.5 581 L743.8 587.5 L740.1 595.9 L741 600.6 L729.8 602.5 L716.7 606.2 L703.6 611.8 L694.2 615.2 L683 618"/>
<path d="M880 485 L891.2 486.1 L897.8 485.6 L908.1 485 L924 485.6 L932.4 475.3 L938 467.8 L937.1 460.3 L941.7 456.6 L950.1 451 L954.8 443.5 L964.2 433.7 L973.5 433.4 L984.8 433.4 L999.7 427.6 L1005.3 425.7 L1014.7 418.2 L1024 407.9 L1028.7 407 L1029.6 402.3 L1040.9 399.5 L1046.5 392 L1052.1 385.5 L1051.2 380.8 L1054.9 378"/>
<path d="M1005.3 425.7 L1022.2 428.1 L1042.7 431.3 L1057.7 437.9 L1072.7 444.4 L1088.6 451 L1093.3 447.2 L1104.5 447.6 L1112.9 451 L1113.8 457.5 L1120 461.2"/>
<path d="M897.8 486.1 L895 490.2 L893.5 495.8 L898.7 502.4 L904.3 507.1 L909.9 516.4 L915.5 526.7 L923 529.5 L924 534.2 L919.3 537 L918.3 544.5 L919.3 555.7 L923 568.8 L924.9 580 L922.1 587.5 L916.5 595.9 L915.5 601.5 L922.1 609 L924.9 618"/>
<path d="M400 778.9 L392 795.7 L382.6 814.4 L380.7 823.8 L377.9 830.3 L378.9 839.7 L372.3 850 L366.7 856.5 L360.2 858"/>
<path d="M449 620.4 L444.9 636.7 L439.3 655.4 L433.7 668.5 L426.2 679.7 L421.5 689.1 L423.4 696.6 L428.1 700.3 L437.4 701.8 L444.9 704 L451.4 707.8 L448.6 710 L440.2 709.7 L434.6 705 L430.9 707.8 L424.3 724.6 L418.7 739.6 L411.2 756.4 L405.6 767.6 L400 778.9"/>
<path d="M458 620 L465.5 625.5 L476.7 633 L486 634.5 L487.9 626.4 L493.5 622.1 L501.9 626.4 L502.5 636.7 L504.8 641.4 L512.2 639.5 L518.8 637.6 L519.7 644.2 L522.5 647.9 L521.6 653.5 L516.9 657.3 L514.1 664.8 L517.8 668.5 L529.1 669.4 L534.7 664.8 L544 656.3 L551.5 654.5 L554.3 650.7 L555.3 640.4 L560.9 632 L559.9 622.7 L564.6 619.9 L572.1 618"/>
<path d="M555.3 648.9 L564.6 652.6 L575.8 657.3 L584.3 661.4 L587.1 657.3 L596.4 655.4 L611.4 656.3 L620.7 651.7 L632 646.1 L640 643.8"/>
<path d="M424.3 727.4 L433.7 731.2 L444.9 733 L454.2 729.3 L463.6 729.9 L474.8 731.2 L482.3 734.9 L487.9 739.6 L493.5 737.7 L497.3 733 L503.8 731.7 L507.6 737.7 L509.4 745.2 L512.2 748.6 L519.7 742.4 L530.9 735.8 L538.4 735.5 L544 743.3 L546.8 751.7 L543.1 754.6 L553.4 752.7 L559 748.9 L565.5 744.3 L572.1 745.2 L574 740.5 L569.3 735.8 L572.1 730.2 L581.4 724.6 L590.8 725.6 L598.3 718.1 L603.9 720.9 L604.8 730.2 L609.5 739.6 L614.2 747.1 L609.5 750.8 L610.4 755.5 L618.9 750.8 L630.1 747.1 L640 743.3"/>
<path d="M610.4 755.5 L605.8 762 L598.3 767.6 L588.9 772.3 L577.7 776.1 L572.1 782.6 L572.1 788.2 L560.9 787.3 L560.9 793.8 L549.6 796.6 L532.8 800.4 L530 790.1 L527.2 777.9 L516 780.7 L504.8 786.4 L497.3 789.2 L487.9 790.1 L478.6 793.8 L477.6 801.3 L480.4 808.8 L485.1 813.5 L482.3 819.1 L473 823.8 L474.8 833.1 L477.6 842.5 L473 850 L461.7 850.9 L461.7 855.6 L463.6 858"/>
<path d="M572.1 788.2 L575.8 792 L583.3 795.7 L585.2 805.1 L584.3 816.3 L587.1 821.9 L596.4 825.6 L605.8 830.3 L617 830.3 L624.5 828.4 L622.6 820 L626.3 810.7 L628.2 800.4 L633.8 799.1 L640 800.4"/>
<path d="M640 643.3 L649.4 638.6 L658.7 633 L668.1 625.5 L675.5 620.8 L682.1 618"/>
<path d="M682.1 618 L685.8 625.5 L684.9 631.1 L679.3 635.8 L684.9 639.5 L688.6 647.9 L690.5 655.4 L695.2 658.2 L686.8 665.7 L682.1 674.1 L688.6 679.7 L691.4 682.5"/>
<path d="M691.4 682.5 L701.7 679.7 L713 676 L722.3 670.4 L731.7 664.8 L735.4 660.1 L741.9 662 L750.4 659.2 L756 651.7 L763.5 644.2 L770.9 639 L778.4 644.2 L785.9 646.1 L793.4 644.2 L800.9 640.1 L810.2 639 L814.9 640.1 L814 649.8 L811.2 658.2 L806.5 664.8 L802.4 668.5 L806.5 672.2 L819.6 674.1 L828.9 672.2 L838.3 670 L845.8 668.5 L849.5 663.8 L854.2 662 L858.9 666.6 L864.5 669.4 L880 668.9"/>
<path d="M691.4 682.5 L686.8 691 L686.8 696.6 L692.4 703.1 L699.9 707.8 L702.7 713.4 L699.9 718.1 L690.5 719.9 L686.8 728.4 L684.9 724.6 L671.8 724.6 L662.4 730.2 L660.6 735.8 L653.1 737.7 L647.5 742.4 L640 741.5"/>
<path d="M880 682.5 L873.8 687.2 L869.2 694.7 L872.9 702.2 L874.8 708.7 L880 710.6"/>
<path d="M640 800.4 L648.4 800.9 L650.3 810.7 L652.2 819.1 L660.6 820 L668.1 823.8 L676.5 831.3 L682.1 838.7 L685.8 845.3"/>
<path d="M640 858 L645.6 850 L653.1 846.2 L660.6 847.2 L672.7 852.8 L680.2 847.2 L685.8 845.3 L693.3 838.7 L701.7 832.2 L705.5 826.6 L712 821.9 L720.4 822.8 L726 823.8 L735.4 818.2 L742.9 815.3 L746.6 815.3 L770.9 816.3 L797.1 817.2 L804.6 814.4 L822.4 813.5 L827.1 815.3 L845.8 814.4 L864.5 812.5 L873.8 811.6 L877.6 805.1 L876.6 799.4 L880 793.8"/>
<path d="M746.6 815.3 L750.4 825.6 L755 835 L761.6 840.6 L770.9 847.2 L778.4 851.8 L784 858"/>
<path d="M924.9 618 L916.5 625.5 L914.6 633 L916.5 640.4 L923 647.9 L929 652.6 L923 658.2 L913.7 663.8 L909.9 668.5 L911.8 673.2"/>
<path d="M880 669.4 L887.5 673.2 L893.1 676.9 L902.4 677.5 L909.9 674.1 L917.4 677.9 L924.9 679.4 L938 678.8 L945.5 676 L952 678.8 L962.3 675.1 L973.5 673.7 L982.9 671.3 L987 666.6 L986.6 660.1 L994.1 655.4 L1003.5 650.7 L1014.7 646.1 L1025.9 642.3 L1033.4 639.5 L1037.1 633.9 L1044.6 630.2 L1052.1 628.3 L1059.6 623.6 L1067.1 623.1 L1074.5 626.4 L1083.9 632 L1091.4 634.8 L1093.3 638.6 L1099.8 640.4 L1103 642.3 L1100.7 648.9 L1097 652.6 L1104.5 655.4 L1113.8 659.2 L1120 663.8"/>
<path d="M880 710.6 L887.5 712.5 L895 719.9 L902.4 729.3 L908.4 736.2 L904.3 742.4 L902.4 750.8 L897.8 757.4 L898.7 765.8 L896.8 773.3 L891.2 778.9 L880 782.6 L881.5 789.2 L880 793.8"/>
<path d="M360.2 858 L352.7 863.6 L345.2 871.1 L344.3 875.8 L348.9 877.6 L347.1 880.4 L341.4 877.6 L334 878.6 L324.6 883.3 L315.3 888.9 L307.8 888.9 L301.2 887.9 L305.9 892.6 L311.5 898.2 L315.3 905.7 L317.1 914.1 L316.2 923.5 L314.3 932.8 L307.8 944 L300.3 955.3 L295.6 970.2 L298.4 981.5 L298.4 994.6 L294.7 1005.8 L290 1017 L283.5 1026.4 L280.7 1033.8 L283.5 1039.4 L281.6 1045.1 L283.5 1048.8 L294.7 1047.9 L304 1049.7 L313.4 1052.5 L322.7 1057.2 L330.2 1050.7 L339.6 1050.7 L348.9 1050.7 L362 1048.8 L369.5 1046.9 L374.2 1043.2 L374.2 1033.8 L375.1 1022.6 L378.9 1015.1 L380 1013.6"/>
<path d="M317.1 907.6 L328.4 907.6 L339.6 902 L345.2 902.9 L350.8 910.4 L354.5 919.7 L358.3 924.4 L365.8 919.7 L373.3 910.4 L382.6 903.8 L392 903.8 L400 906.3"/>
<path d="M379.8 1053.1 L373.3 1054.4 L370.4 1056.3 L373.3 1060 L365.8 1055.3 L356.4 1056.3 L347.1 1058.2 L338.6 1059.1 L342.4 1065.6 L348.9 1073.1 L354.5 1082.5 L356.4 1098"/>
<path d="M464.5 858.9 L459.9 862.7 L446.8 861.7 L433.7 863.6 L424.3 867.4 L418.7 873 L413.1 880.4 L407.5 884.2 L402.8 886.1 L400.9 895.4 L401.9 906.6 L405.6 914.1 L415 916.9 L422.4 918.8 L429.9 916.9 L435.5 923.5 L444 929.5 L437.4 932.8 L426.2 933.8 L422.4 936.6 L425.6 940.2"/>
<path d="M520.1 1088.4 L525.3 1091.8 L534.7 1092.8 L542.2 1090.9 L549.6 1090 L557.1 1094.6 L560.9 1098"/>
<path d="M520.2 1028.9 L530.9 1023.5 L540.3 1018.9 L549.6 1013.3 L559 1014.2 L568.4 1011.4 L577.7 1017 L587.1 1020.7 L592.7 1025.4 L598.3 1028.2 L602 1032 L606.7 1030.1 L608.6 1025.4 L603.9 1020.7 L598.3 1015.1 L597.3 1009.5 L590.8 1005.8 L583.3 1003 L577.7 999.2 L581.4 992.7 L582.4 985.2 L587.1 979.6 L590.8 977.7"/>
<path d="M640 889.8 L634.8 892.6 L630.1 898.2 L622.6 904.8 L615.1 909.4 L607.6 911.3 L602 917.9 L590.8 925.3 L579.6 931.9 L568.4 938.4 L561.8 945.9 L559 951.5 L562.7 956.2 L568.4 959 L574 966.5 L579.6 974 L590.8 977.7 L598.3 974 L605.8 971.7 L613.3 972.1 L615.1 979.6 L617 983.3 L620.7 977.7 L628.2 977.7 L633.8 982.4 L636.6 990.8 L640 991.7"/>
<path d="M640 867.4 L647.5 872 L652.2 877.6 L647.5 884.2 L640 887.9"/>
<path d="M783.1 858.9 L789.6 862.7 L799 865.5 L804.6 867.4 L805 874.8 L800.9 884.2 L799.9 891.7 L802.7 898.2 L810.2 904.8 L819.6 913.2 L830.8 914.1 L836.4 908.5 L843 902 L839.2 895.4 L842 890.7 L851.4 887 L861.7 886.1 L862.6 895.4 L861.7 902 L868.2 902.9 L872.9 891.7 L873.8 884.2 L864.5 878.6 L867.3 873.9 L880 876.7"/>
<path d="M819.6 913.2 L815.8 919.7 L817.7 927.2 L825.2 932.8 L836.4 935.6 L842 942.2 L839.2 949.7 L843.9 954.3 L851.4 954.3 L860.7 950.6 L870.1 951.5 L877.6 956.2 L880 959"/>
<path d="M640 991.7 L647.5 988.9 L654 985.2 L659.6 986.1 L668.1 994.6 L675.5 1000.2 L686.8 1002.4 L696.1 1001.1 L701.7 997.4 L705.5 994.6 L711.1 997.4 L716.7 996.1 L724.2 997.9 L729.8 993.6 L737.3 989.9 L746.6 987.1 L749.4 982.4 L748.5 979.2 L752.2 977.7 L756 980.5 L763.5 983.3 L769.1 988.9 L770.9 996.4 L776.6 1003.9 L780.3 1013.3 L785.9 1020.7 L791.5 1025.4 L799 1024.5 L808.4 1018.9 L815.8 1016.1 L823.3 1017 L828 1021.7 L827.1 1027.3 L824.3 1033.8"/>
<path d="M880 983.3 L875.7 992.7 L868.2 998.3 L864.5 1002 L867.3 1007.6 L864.5 1013.3 L855.1 1018.9 L843.9 1022.6 L836.4 1028.2 L824.3 1033.8 L815.8 1039.4 L811.2 1046.9 L809.9 1056.3 L810.2 1063.8 L814.9 1069.4 L812.1 1075 L804.6 1084.3 L800.9 1093.7 L799 1098"/>
<path d="M880 877.6 L891.2 881.4 L906.2 886.4 L917.4 885.1 L924.9 885.7 L928.6 889.8 L932.4 896.3 L937.1 899.2 L938.9 905.7 L936.1 912.2 L927.7 920.7 L930.5 926.3 L934.2 932.5 L945.5 934.3 L955.8 935.6 L961.4 930 L969.8 931.9 L980.1 934.3 L982.5 939.4 L986.6 941.2 L992.2 936.2 L1010.9 937.5 L1030.6 939.4 L1042.7 934.3 L1043.7 948.7 L1048.4 953.8 L1059.6 954.3 L1064.3 957.1 L1069.9 963.7 L1079.2 963.7 L1085.8 970.2 L1097.9 958.1 L1114.8 947.8 L1116.1 961.8 L1120 962.8"/>
<path d="M880 959 L883.7 962.8 L884.7 967.4 L882.8 970.2 L886.5 974.9 L883.7 979.6 L880 983.3"/>
<path d="M356.4 1098 L354.5 1105.5 L347.1 1110.2 L343.3 1114.8 L345.2 1118.2 L351.7 1119 L358.3 1116.7 L365.8 1114.5 L377 1113.3 L380.4 1112.8"/>
<path d="M447.8 1130.3 L450.5 1139.2 L452.4 1154.1 L453.3 1172.8 L449.6 1184 L445.8 1199 L439.3 1210.2 L433.7 1219.6 L429.9 1226.1 L424.3 1228.9 L431.8 1233.6 L442.1 1236.4 L446.8 1243.9 L448.6 1253.3 L447.7 1262.6 L444.9 1272 L444 1281.3 L446.8 1285.1 L454.2 1284.1 L459.5 1282.3 L458 1288.8 L448.6 1290.7 L445.8 1296.3 L444 1305.6 L441.2 1315 L444.9 1320.6 L448.6 1328.1 L449 1338"/>
<path d="M447.7 1260.7 L452.4 1263.5 L459.9 1261.7 L465.5 1264.5 L471.1 1271 L475.8 1276.6 L480.4 1272.9 L486 1274.8 L491.7 1277.6 L497.3 1275.7 L499.1 1268.2 L502.9 1262.6 L508.5 1257 L512.2 1254.2 L521.6 1252.3 L534.7 1249.9 L545.9 1250.5 L553.4 1252.3 L560.9 1255.1 L564.6 1247.6 L568.4 1236.4 L569.3 1225.2 L567.4 1217.7 L562.7 1213 L553.4 1211.2 L545.9 1206.5 L543.1 1199.9 L545.9 1192.5 L553.4 1191.5 L555.3 1185 L560.9 1182.2 L567.4 1184 L570.2 1176.6 L575.8 1174.7 L581.4 1174.7 L584.3 1170 L594.5 1167.2 L607.6 1163.8 L608.6 1156 L604.8 1146.6 L601.1 1140.1"/>
<path d="M559 1098 L562.7 1105.5 L563.7 1111.1 L570.2 1115.8 L569.3 1121.4 L565.5 1127 L572.1 1130.7 L581.4 1134.5 L590.8 1136.3 L601.1 1140.1 L611.4 1139.5 L624.5 1138.8 L632 1142 L640 1144.8"/>
<path d="M640 1143.8 L645.6 1142.9 L655 1145.7 L662.4 1151.3 L681.2 1157.9 L694.2 1158.8 L705.5 1163.5 L716.7 1168.1 L733.5 1168.7 L744.8 1171 L757.8 1171 L763.5 1163.5 L770.9 1159.7 L778.4 1155.1 L783.1 1150.4 L784 1146.3 L795.3 1142.9 L804.6 1139.5 L812.1 1138.8 L815.8 1144.8 L819.6 1151.3 L825.2 1155.1 L830.8 1157.9 L834.5 1165.3 L839.2 1171.9 L843.9 1175.1 L850.4 1175.6"/>
<path d="M797.1 1098 L799.9 1103.6 L793.4 1111.1 L802.7 1115.8 L812.1 1125.1 L819.6 1133.5 L828.9 1142.9 L832.7 1148.5 L839.2 1152.2 L843.9 1162.5 L850.4 1175.6 L855.1 1176.6 L864.5 1174.7 L872 1171 L880 1170"/>
<path d="M880 1199 L877.6 1206.5 L874.8 1212.1 L868.2 1214 L858.9 1211.2 L850.4 1209.3 L845.8 1214.9 L843 1219.6 L834.5 1220.5 L825.2 1219.6 L814.9 1223.3 L815.8 1229.9 L811.2 1242 L806.5 1253.3 L799 1262.6 L789.6 1269.2 L778.4 1276.6 L772.8 1283.2 L769.1 1292.5 L768.1 1301.9 L764.4 1307.5 L756 1314.1 L756 1318.7 L752.2 1323.4 L755 1330.9 L761.6 1336.5 L764.4 1338"/>
<path d="M755 1331.5 L742.9 1331.8 L735.4 1335.6 L732.6 1338"/>
<path d="M880 1169.1 L887.5 1168.7 L893.1 1169.5 L888.4 1182.2 L883.7 1191.5 L880 1197.1"/>
<path d="M893.1 1168.1 L908.1 1171.9 L926.8 1176.6 L930.1 1179.4 L927.7 1185 L924 1189.7 L928.6 1192.5 L938 1195.3 L947.3 1195.3 L956.7 1194.3 L966 1195.3 L973.5 1199 L979.1 1204.6 L981.9 1212.1 L992.2 1212.5 L1001.6 1214.4 L1007.2 1210.2 L1012.8 1205 L1018.4 1204.3 L1027.8 1208.4 L1032.5 1213 L1033.4 1218.7 L1044.6 1222.4 L1057.7 1227.1 L1072.7 1231.7 L1075.5 1232.7 L1082 1228 L1091.4 1223.7 L1104.5 1221.5 L1120 1219.6"/>
<path d="M1075.5 1232.7 L1078.3 1240.2 L1088.6 1240.2 L1086.7 1247.6 L1083.9 1255.1 L1087.6 1260.7 L1090.4 1265.4 L1084.8 1268.2 L1075.5 1265.4 L1069.9 1268.2 L1067.1 1273.8 L1068 1282.3 L1064.3 1284.1 L1059.6 1282.3 L1057.7 1275.7 L1048.4 1274.8 L1039 1275.7 L1024 1279.4 L1009.1 1283.2 L1003.5 1288.8 L997.8 1296.3 L992.2 1301 L991.9 1307.5 L999.7 1309.4 L1012.8 1308.4 L1025 1313.1 L1023.1 1319.7 L1029.6 1327.2 L1034.3 1338"/>
<path d="M449 1338 L447.7 1345.5 L445.8 1352 L442.1 1362.3 L438.3 1371.7 L431.8 1378.2 L428.1 1383.8 L430.9 1391.3 L429 1401.6 L424.3 1406.3 L417.8 1410 L420.6 1417.5 L415 1427.8 L407.5 1438.1 L401.9 1445.6 L400.9 1451.2 L406.5 1453 L412.2 1456.2 L418.7 1453 L428.1 1447.1 L433.7 1448.4 L439.3 1444.6 L448.6 1442.8 L458 1439 L474.8 1438.6 L485.1 1430 L499.1 1428.7 L510.4 1430.6 L521.6 1435.3 L534.7 1438.5 L544 1437.1 L551.5 1434.9 L559 1437.1 L569.3 1439.6 L581.4 1438.1 L596.4 1437.1 L611.4 1440.9 L624.5 1446.5 L640 1454.9"/>
<path d="M445.8 1351.1 L456.1 1355.8 L465.5 1362.3 L476.7 1362.7 L486 1366.1 L490.7 1362.3 L501 1360.8 L506.6 1362.3 L516 1366.1 L527.2 1367.9 L536.6 1365.1 L539.4 1359.5 L547.8 1356.7 L559 1355.2 L566.5 1353.9 L573 1355.8 L575.8 1363.3 L587.1 1369.8 L598.3 1376.9 L609.5 1379.2 L622.6 1379.5 L630.1 1375.4 L640 1371.3"/>
<path d="M640 1362.3 L651.2 1360.8 L660.6 1359.5 L666.2 1355.8 L673.7 1352 L686.8 1346.4 L699.9 1341.7 L713 1338"/>
<path d="M713 1338 L722.3 1338.9 L729.8 1339.9 L735.4 1338"/>
<path d="M761.6 1338 L767.2 1343.6 L769.1 1354.8 L772.8 1366.1 L773.7 1379.2 L776.6 1390.4 L774.7 1396.9 L778.4 1407.2 L781.2 1414.7 L783.1 1418.4"/>
<path d="M640 1455.8 L647.5 1457.7 L651.2 1454.9 L658.7 1455.8 L668.1 1456.8 L675.5 1457.7 L683 1458.7 L692.4 1452.1 L705.5 1444.6 L718.6 1437.1 L731.7 1429.7 L744.8 1423.1 L756 1417.5 L763.5 1415.1 L770.9 1415.6 L778.4 1417.5 L783.1 1418.4 L787.8 1414.7 L793.4 1413.8 L799 1410.6 L808.4 1409.6 L827.1 1409.1 L849.5 1408.1 L858.9 1408.7 L848.6 1406.3 L855.1 1403.8 L864.5 1406.3 L880 1411.9"/>
<path d="M648.4 1461.5 L655 1465.2 L664.3 1465.2 L671.8 1461.5 L674.6 1457.7"/>
<path d="M880 1411.9 L887.5 1414.7 L894 1417.5 L896.8 1415.6 L893.1 1410 L888.4 1402.5 L895 1401.6 L902.4 1397.9 L909.9 1391.3 L915.5 1387 L909.9 1394.1 L904.3 1399.7 L899.6 1405.3 L899.6 1411 L904.3 1418.4 L913.7 1423.1 L923 1427.8 L934.2 1431.5 L945.5 1437.1 L958.6 1444.6 L971.7 1451.2 L984.8 1459.6 L999.7 1468.9 L1014.7 1478.3 L1025.9 1487.6 L1035.3 1498.9 L1040.9 1503.5"/>
<path d="M1022.2 1512 L1018.4 1521.3 L1020.3 1532.5 L1025.9 1545.6 L1035.3 1549.4 L1048.4 1553.1 L1059.6 1560.6 L1065.2 1564.3 L1065.2 1571.8 L1064.3 1578"/>
<path d="M1033.4 1338 L1039 1345.5 L1044.6 1353 L1042.7 1357.6 L1033.4 1360.4 L1032.5 1366.1 L1033.4 1371.7 L1028.7 1377.3 L1031.5 1382 L1038.1 1387.6 L1037.1 1394.1 L1034.3 1401.6 L1036.2 1412.8 L1035.3 1425.9 L1033.4 1433.4 L1029.6 1439 L1028.7 1446.5 L1031.5 1454 L1034.3 1461.5 L1029.6 1472.7 L1035.3 1479.2 L1037.1 1487.6 L1039 1498.9 L1035.3 1503.5 L1027.8 1504.5 L1022.2 1512"/>
<path d="M1037.1 1482 L1044.6 1477.4 L1052.1 1475.5 L1055.8 1478.3 L1065.2 1477.4 L1072.7 1474.6 L1067.1 1480.2 L1076.4 1483 L1085.8 1485.8 L1095.1 1491.4 L1104.5 1493.3 L1120 1494.8"/>
<path d="M1044.6 1570 L1050.2 1569 L1057.7 1573.7 L1065.2 1576.5 L1076.4 1575.6 L1067.1 1578"/>
<path d="M426.2 940 L429.7 943.5 L435.5 948.1 L442.4 951.6 L447.1 953.9 L449.4 957.3 L454 955 L456.3 954.5 L452.8 959.1 L448.2 962.5 L442.4 964.9 L435.5 966 L426.2 966.6 L418.2 966 L414.7 968.9 L411.2 973.5 L405.4 979.9 L399.7 986.2 L395 994.3 L389.2 1002.4 L383.5 1010.5 L380 1015.1"/>
<path d="M454 956.2 L449.4 960.2 L443.6 963.7 L439 966 L435.5 968.9 L434.3 971.2 L439 974.1 L434.3 979.3 L429.7 986.2 L426.2 994.3 L422.8 1002.4 L418.2 1009.4 L413.5 1014 L410.1 1016.3 L407.7 1015.1 L403.1 1012.8 L399.7 1008.2 L397.3 1000.1 L399.7 992 L403.1 986.2 L408.9 978.2 L414.7 971.2 L419.3 968.9 L426.2 967.7 L435.5 967.2"/>
<path d="M407.7 1016.3 L408.9 1020.9 L412.4 1027.9 L414.7 1031.3 L417 1032.5 L418.2 1037.1 L420.5 1039.4 L426.2 1039.4 L432 1037.7 L437.8 1036.5 L442.4 1038.3 L447.1 1041.2 L451.7 1042.3 L456.3 1041.7 L459.8 1038.3 L463.2 1031.3 L466.7 1023.2 L470.2 1018.6 L472.5 1017.5 L478.3 1020.9 L484.6 1022.7 L489.8 1020.3 L494.5 1018.6 L495 1025.5 L496.8 1031.3 L501.4 1033.6 L509.5 1034.2 L520 1036"/>
<path d="M414.7 1031.3 L408.9 1033.6 L400.8 1038.3 L393.9 1042.9 L388.1 1049.8 L384.6 1052.7 L380 1052.1"/>
<path d="M381.2 1017.5 L384.6 1011.7 L389.2 1009.4 L391.6 1010.5 L390.4 1015.1 L385.8 1019.8 L382.3 1020.9 L381.2 1017.5"/>
<path d="M520 1025.5 L509.5 1034.2"/>
<path d="M518.7 1036 L518.7 1042.9 L514.1 1049.8 L507.2 1055.6 L499.1 1060.2 L491 1064.9 L485.2 1070.6 L482.9 1074.1 L484 1079.9 L486.4 1085.7 L495.6 1089.1 L507.2 1092.6 L515.3 1094.3 L517.6 1090.3 L516.4 1088 L520 1087.4"/>
<path d="M380 1113.4 L389.2 1111.1 L397.3 1108.8 L403.1 1104.2 L408.9 1098.4 L414.7 1096.1 L421.6 1095.5 L429.7 1097.2 L437.8 1100.1 L444.7 1101.9 L449.4 1103 L452.3 1100.7 L452.8 1096.6 L449.4 1092.6 L444.2 1092 L447.1 1090.3 L450.5 1089.1 L452.8 1084.5 L455.1 1082.8 L458.6 1083.4 L457.5 1088 L459.8 1092.6 L463.2 1093.8 L459.8 1097.2 L459.2 1101.9 L460.9 1107.6 L465.5 1111.1 L472.5 1113.4 L480.6 1115.7 L487.5 1117.5 L494.5 1118 L487.5 1120.3 L481.7 1121.5 L472.5 1119.2 L460.9 1116.3 L454 1115.1 L448.2 1115.7 L447.1 1112.3 L437.8 1107.6 L426.2 1103 L418.2 1100.1 L413.5 1101.9 L420.5 1106.5 L428.6 1113.4 L437.8 1121.5 L444.7 1127.3 L448.2 1130.1"/>
<path d="M477.4 520 L474.9 529.4 L471.2 544.9 L466.8 560.5 L463.1 573 L459.3 582.4 L457.5 588.6 L455 597.9 L451.2 609.2 L448.7 620"/>
<path d="M483 535 L485.5 540 L482.4 543.7 L478.7 546.2 L475.9 549.3 L476.8 553.7 L479.3 557.4 L483.6 559.9 L488.6 560.5 L493.6 559.3 L498.6 557.1 L502.4 556.8 L499.2 559.9 L494.9 561.8 L489.9 563 L484.9 563.6 L480.5 564.3 L479.9 567.4 L482.4 569.9 L486.1 571.8 L483.6 575.5 L480.5 578 L476.8 577.4 L474.3 575.8 L471.8 577.4 L473 579.9 L474.3 583 L471.2 582.4 L467.4 583 L463.7 586.1 L461.2 590.5 L460 585.5 L459.3 582.4"/>
<path d="M483 535 L481.8 538.7 L479.9 541.2 L477.4 540.6 L474.9 543.7 L472.4 549.3 L470.6 557.4 L468.7 564.9 L466.2 571.8 L463.1 577.4 L460.6 581.1"/>
<path d="M451.2 612.9 L455.6 616 L460.6 620"/>
</g>
<g fill="none" stroke="#808080" stroke-width="1.1" stroke-linejoin="round">
<path d="M354.5 378 L367.6 354.1 L376.1 345.6 L400 332.5"/>
<path d="M400 332.5 L423.4 329.7 L440.2 304.5 L448.6 282 L459.9 268.9 L473.9 258.7 L493.5 211 L529.1 162.3 L544 148.3 L560.9 139.9"/>
<path d="M924.9 378 L951.1 367.2 L977.3 366.2 L1013.7 355 L1016.6 330.7 L1024 315.7 L1039 304.5 L1048.4 289.5 L1059.6 282 L1070.8 281.1 L1120 302.6"/>
<path d="M160 461.6 L184.3 451 L206.8 436.9 L231.1 428.5 L255.4 420.7 L264.4 416.6"/>
<path d="M294.7 405.5 L299.4 404.2 L327.4 402.9 L352.7 380.8 L354.5 378"/>
<path d="M371.4 618 L400 595"/>
<path d="M400 595 L424.3 587.5 L471.1 579.1 L495.4 596.9 L519.7 605.3 L530.9 589.4 L542.2 565.1 L555.3 545.4 L579.6 535.1 L615.1 533.3 L627.3 522 L627.3 497.7 L640 493"/>
<path d="M640 492.5 L664.3 491.2 L688.6 491.2 L711.1 489.9 L735.4 521.7 L759.7 511.2 L784 476.2 L807.4 459.4 L830.8 443.5 L855.1 425.7 L872 402.3 L880 394.8"/>
<path d="M880 394.8 L904.3 386.4 L924.9 378"/>
<path d="M1035.3 618 L1047.4 604.3 L1070.8 593.1 L1095.1 586.6 L1120 581"/>
<path d="M160 730.2 L184.3 718.1 L206.8 708.7 L231.1 696.6 L255.4 679.7 L279.7 658.2 L304 640.8 L328.4 636.7 L335.8 634.4"/>
<path d="M366.3 621.1 L371.4 618"/>
<path d="M435.5 858 L461.7 850 L486 842.5 L510.4 835 L542.2 810.7 L549.6 786.4 L559 763.9 L574 739.6 L590.8 730.2 L615.1 739.6 L640 756.4"/>
<path d="M640 756.4 L663.4 769.1 L686.8 756.4 L711.1 739.6 L735.4 728.4 L759.7 728.4 L784 711.5 L808.4 694.7 L819.6 689.1 L845.8 686.3 L880 682.5"/>
<path d="M880 682.5 L903.4 674.1 L926.8 678.8 L951.1 682 L975.4 664.8 L999.7 651.7 L1024 631.1 L1035.3 618"/>
<path d="M169.4 1098 L197.4 1075 L231.1 1050.7 L255.4 1033.8 L256.3 1033.4"/>
<path d="M285.5 1018.8 L289.1 1017 L328.4 992.7 L354.5 977.7 L375.1 953.4 L393.8 929.1 L400 917.9"/>
<path d="M433.7 858 L418.7 871.1 L412.2 886.1 L409.4 904.8 L401.9 916 L400 917.9"/>
<path d="M160 1108.3 L169.4 1098"/>
<path d="M719.9 652.6 L726.9 642.5 L735.5 638.6 L740.9 642.5 L746.8 666.2 L735.5 677.5 L726.6 673.6"/>
<path d="M718.1 656.1 L719.9 652.6"/>
<path d="M968.5 162.4 L999.7 156.2 L1004 160 L1005.8 162.4"/>
<path d="M982.4 169.1 L974.8 166.8 L968.5 162.4"/>
<path d="M891.2 186.1 L927.4 173.7 L947.3 186.8 L951.7 209.8 L927.4 229.8 L918 234.1 L914.1 244.4"/>
<path d="M896.5 255.7 L888.7 233.5 L887.5 209.8 L891.2 186.1"/>
<path d="M1035.1 353.8 L1050.9 329.8 L1071.7 314 L1094.6 328.2 L1103.3 330.4 L1082.6 344.6"/>
<path d="M1051.6 356 L1047.7 356.6 L1035.1 353.8"/>
<path d="M899.6 330.7 L903.4 324.1 L910.9 330.7 L903.4 340 L899.6 330.7"/>
</g>
<g font-family="'DejaVu Sans','Liberation Sans',sans-serif" font-size="16.6px" fill="#808080" text-anchor="middle">
<text transform="translate(279.1 406.9) rotate(-7)" y="6.3">2000</text>
<text transform="translate(351.8 631.2) rotate(-10)" y="6.3">2500</text>
<text transform="translate(271.1 1026.2) rotate(-13)" y="6.3">3000</text>
<text transform="translate(713.3 667.4) rotate(65)" y="6.3">3000</text>
<text transform="translate(998.5 174.3) rotate(-14.5)" y="6.3">2500</text>
<text transform="translate(909.3 258.5) rotate(-32)" y="6.3">2500</text>
<text transform="translate(1067.3 354.2) rotate(-7)" y="6.3">2500</text>
</g>
<g stroke="#b0b0b0" stroke-width="1.5" fill="none">
<path d="M400 138.0V1578.0"/>
<path d="M640 138.0V1578.0"/>
<path d="M880 138.0V1578.0"/>
<path d="M160.0 498H1120.0"/>
<path d="M160.0 858H1120.0"/>
<path d="M160.0 1218H1120.0"/>
</g>
</g>
<rect x="640.5" y="1451.5" width="461.0" height="108.79999999999995" rx="6" ry="6" fill="#fff" fill-opacity="0.8" stroke="#ccc" stroke-opacity="0.8" stroke-width="1.5"/>
<rect x="656" y="1494" width="75" height="26" fill="#4d4040"/>
<g font-family="'DejaVu Sans','Liberation Sans',sans-serif" font-size="37.35px" fill="#000"><text x="762.2" y="1495">Terrain height</text><text x="762.2" y="1537">above snow level</text></g>
<rect x="160.0" y="138.0" width="960.0" height="1440.0" fill="none" stroke="#000" stroke-width="1.5"/>
<g stroke="#000" stroke-width="1.5" fill="none">
<path d="M160 1578.0v6.6"/>
<path d="M400 1578.0v6.6"/>
<path d="M640 1578.0v6.6"/>
<path d="M880 1578.0v6.6"/>
<path d="M1120 1578.0v6.6"/>
<path d="M160.0 138h-6.6"/>
<path d="M160.0 498h-6.6"/>
<path d="M160.0 858h-6.6"/>
<path d="M160.0 1218h-6.6"/>
<path d="M160.0 1578h-6.6"/>
</g>
<g font-family="'DejaVu Sans','Liberation Sans',sans-serif" font-size="37.2px" fill="#000">
<text x="160" y="1621" text-anchor="middle">10°W</text>
<text x="400" y="1621" text-anchor="middle">9°W</text>
<text x="640" y="1621" text-anchor="middle">8°W</text>
<text x="880" y="1621" text-anchor="middle">7°W</text>
<text x="1120" y="1621" text-anchor="middle">6°W</text>
<text x="145.4" y="152.2" text-anchor="end">42.5°N</text>
<text x="145.4" y="512.2" text-anchor="end">41°N</text>
<text x="145.4" y="872.2" text-anchor="end">39.5°N</text>
<text x="145.4" y="1232.2" text-anchor="end">38°N</text>
<text x="145.4" y="1592.2" text-anchor="end">36.5°N</text>
</g>
<g shape-rendering="crispEdges">
<rect x="1122.0" y="1540.41" width="36.0" height="37.89" fill="#8000ff"/>
<rect x="1122.0" y="1502.51" width="36.0" height="38.49" fill="#7a09ff"/>
<rect x="1122.0" y="1464.62" width="36.0" height="38.49" fill="#6c1fff"/>
<rect x="1122.0" y="1426.72" width="36.0" height="38.49" fill="#5e35fe"/>
<rect x="1122.0" y="1388.83" width="36.0" height="38.49" fill="#504afc"/>
<rect x="1122.0" y="1350.93" width="36.0" height="38.49" fill="#4062fa"/>
<rect x="1122.0" y="1313.04" width="36.0" height="38.49" fill="#3176f8"/>
<rect x="1122.0" y="1275.14" width="36.0" height="38.49" fill="#2489f5"/>
<rect x="1122.0" y="1237.25" width="36.0" height="38.49" fill="#169bf2"/>
<rect x="1122.0" y="1199.35" width="36.0" height="38.49" fill="#08acee"/>
<rect x="1122.0" y="1161.46" width="36.0" height="38.49" fill="#07bbea"/>
<rect x="1122.0" y="1123.56" width="36.0" height="38.49" fill="#14cae5"/>
<rect x="1122.0" y="1085.67" width="36.0" height="38.49" fill="#22d6e0"/>
<rect x="1122.0" y="1047.77" width="36.0" height="38.49" fill="#30e1da"/>
<rect x="1122.0" y="1009.88" width="36.0" height="38.49" fill="#40ecd4"/>
<rect x="1122.0" y="971.98" width="36.0" height="38.49" fill="#4ef3cd"/>
<rect x="1122.0" y="934.09" width="36.0" height="38.49" fill="#5df9c7"/>
<rect x="1122.0" y="896.19" width="36.0" height="38.49" fill="#6afdc0"/>
<rect x="1122.0" y="858.30" width="36.0" height="38.49" fill="#78ffb8"/>
<rect x="1122.0" y="820.41" width="36.0" height="38.49" fill="#86ffb0"/>
<rect x="1122.0" y="782.51" width="36.0" height="38.49" fill="#94fda8"/>
<rect x="1122.0" y="744.62" width="36.0" height="38.49" fill="#a2f9a0"/>
<rect x="1122.0" y="706.72" width="36.0" height="38.49" fill="#b0f397"/>
<rect x="1122.0" y="668.83" width="36.0" height="38.49" fill="#c0eb8d"/>
<rect x="1122.0" y="630.93" width="36.0" height="38.49" fill="#cee184"/>
<rect x="1122.0" y="593.04" width="36.0" height="38.49" fill="#dcd67a"/>
<rect x="1122.0" y="555.14" width="36.0" height="38.49" fill="#ebca70"/>
<rect x="1122.0" y="517.25" width="36.0" height="38.49" fill="#f9bb66"/>
<rect x="1122.0" y="479.35" width="36.0" height="38.49" fill="#ffac5c"/>
<rect x="1122.0" y="441.46" width="36.0" height="38.49" fill="#ff9b52"/>
<rect x="1122.0" y="403.56" width="36.0" height="38.49" fill="#ff8947"/>
<rect x="1122.0" y="365.67" width="36.0" height="38.49" fill="#ff763d"/>
<rect x="1122.0" y="327.77" width="36.0" height="38.49" fill="#ff5f30"/>
<rect x="1122.0" y="289.88" width="36.0" height="38.49" fill="#ff4a26"/>
<rect x="1122.0" y="251.98" width="36.0" height="38.49" fill="#ff351b"/>
<rect x="1122.0" y="214.09" width="36.0" height="38.49" fill="#ff1f10"/>
<rect x="1122.0" y="176.19" width="36.0" height="38.49" fill="#ff0905"/>
<rect x="1122.0" y="137.70" width="36.0" height="39.09" fill="#ff0000"/>
</g>
<g stroke="#000" stroke-width="1.15" fill="none">
<path d="M1122.0 1540.71H1165.2"/>
<path d="M1122.0 1502.81H1165.2"/>
<path d="M1122.0 1464.92H1165.2"/>
<path d="M1122.0 1427.02H1165.2"/>
<path d="M1122.0 1389.13H1165.2"/>
<path d="M1122.0 1351.23H1165.2"/>
<path d="M1122.0 1313.34H1165.2"/>
<path d="M1122.0 1275.44H1165.2"/>
<path d="M1122.0 1237.55H1165.2"/>
<path d="M1122.0 1199.65H1165.2"/>
<path d="M1122.0 1161.76H1165.2"/>
<path d="M1122.0 1123.86H1165.2"/>
<path d="M1122.0 1085.97H1165.2"/>
<path d="M1122.0 1048.07H1165.2"/>
<path d="M1122.0 1010.18H1165.2"/>
<path d="M1122.0 972.28H1165.2"/>
<path d="M1122.0 934.39H1165.2"/>
<path d="M1122.0 896.49H1165.2"/>
<path d="M1122.0 858.60H1165.2"/>
<path d="M1122.0 820.71H1165.2"/>
<path d="M1122.0 782.81H1165.2"/>
<path d="M1122.0 744.92H1165.2"/>
<path d="M1122.0 707.02H1165.2"/>
<path d="M1122.0 669.13H1165.2"/>
<path d="M1122.0 631.23H1165.2"/>
<path d="M1122.0 593.34H1165.2"/>
<path d="M1122.0 555.44H1165.2"/>
<path d="M1122.0 517.55H1165.2"/>
<path d="M1122.0 479.65H1165.2"/>
<path d="M1122.0 441.76H1165.2"/>
<path d="M1122.0 403.86H1165.2"/>
<path d="M1122.0 365.97H1165.2"/>
<path d="M1122.0 328.07H1165.2"/>
<path d="M1122.0 290.18H1165.2"/>
<path d="M1122.0 252.28H1165.2"/>
<path d="M1122.0 214.39H1165.2"/>
<path d="M1122.0 176.49H1165.2"/>
</g>
<g font-family="'DejaVu Sans','Liberation Sans',sans-serif" font-size="37.2px" fill="#000">
<text x="1174" y="1554.31">0</text>
<text x="1174" y="1516.41">100</text>
<text x="1174" y="1478.52">200</text>
<text x="1174" y="1440.62">300</text>
<text x="1174" y="1402.73">400</text>
<text x="1174" y="1364.83">500</text>
<text x="1174" y="1326.94">600</text>
<text x="1174" y="1289.04">700</text>
<text x="1174" y="1251.15">800</text>
<text x="1174" y="1213.25">900</text>
<text x="1174" y="1175.36">1000</text>
<text x="1174" y="1137.46">1100</text>
<text x="1174" y="1099.57">1200</text>
<text x="1174" y="1061.67">1300</text>
<text x="1174" y="1023.78">1400</text>
<text x="1174" y="985.88">1500</text>
<text x="1174" y="947.99">1600</text>
<text x="1174" y="910.09">1700</text>
<text x="1174" y="872.20">1800</text>
<text x="1174" y="834.31">1900</text>
<text x="1174" y="796.41">2000</text>
<text x="1174" y="758.52">2100</text>
<text x="1174" y="720.62">2200</text>
<text x="1174" y="682.73">2300</text>
<text x="1174" y="644.83">2400</text>
<text x="1174" y="606.94">2500</text>
<text x="1174" y="569.04">2600</text>
<text x="1174" y="531.15">2700</text>
<text x="1174" y="493.25">2800</text>
<text x="1174" y="455.36">2900</text>
<text x="1174" y="417.46">3000</text>
<text x="1174" y="379.57">3100</text>
<text x="1174" y="341.67">3200</text>
<text x="1174" y="303.78">3300</text>
<text x="1174" y="265.88">3400</text>
<text x="1174" y="227.99">3500</text>
<text x="1174" y="190.09">3600</text>
</g>
<g font-family="'DejaVu Sans Mono','Liberation Mono',monospace" font-weight="bold" font-size="37.6px" fill="#000" text-anchor="middle">
<text x="639.7" y="42.9" xml:space="preserve">Snow level (m) [ Pedro M. Sousa, IDL-FCUL ]</text>
<text x="639.7" y="84.9" xml:space="preserve">ARPEGE 0.1º Forecast: Thursday 2026-04-16 T 06Z</text>
<text x="639.7" y="127.0" xml:space="preserve">Run 2026-04-15 T 06Z +24 hour</text>
</g>
</svg>
</body></html>
